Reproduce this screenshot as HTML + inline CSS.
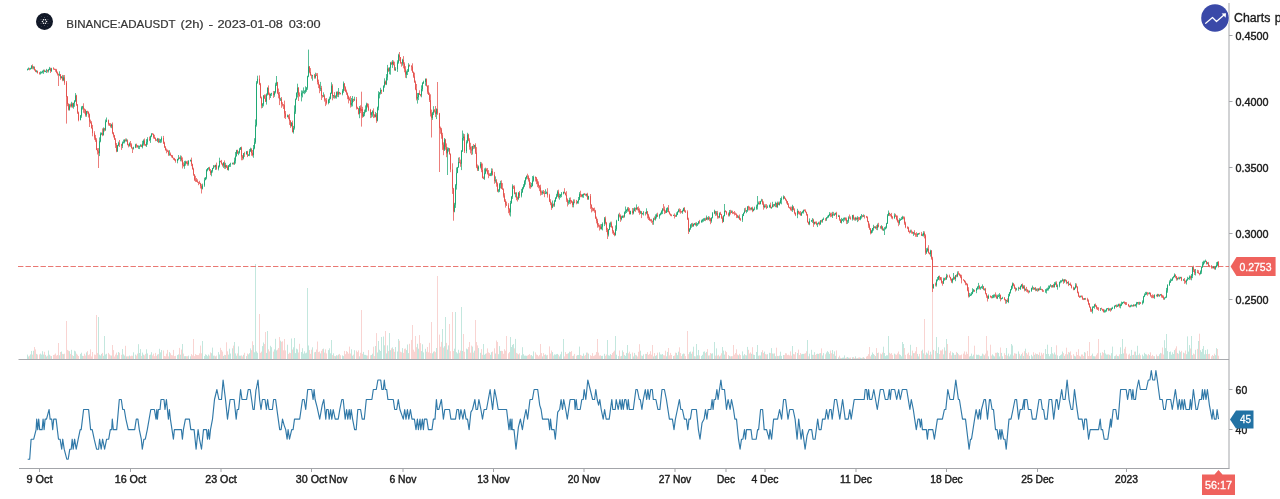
<!DOCTYPE html>
<html><head><meta charset="utf-8"><title>BINANCE:ADAUSDT (2h)</title>
<style>html,body{margin:0;padding:0;background:#fff;overflow:hidden}body{width:1280px;height:499px;font-family:"Liberation Sans",sans-serif}svg{display:block;will-change:transform;filter:opacity(1)}text{font-family:"Liberation Sans",sans-serif}</style></head><body>
<svg width="1280" height="499" viewBox="0 0 1280 499">
<rect width="1280" height="499" fill="#fff"/>
<g opacity="0.999">
<g fill="none" stroke-width="1">
<path stroke="#c3e7de" d="M27.5 359V354.6M28.5 359V356.5M30.5 359V354.4M31.5 359V350.9M33.5 359V350.8M36.5 359V353.9M40.5 359V353.6M41.5 359V354.6M42.5 359V351.2M43.5 359V354.5M45.5 359V354.9M46.5 359V356.5M48.5 359V350.5M49.5 359V354.7M51.5 359V356.1M59.5 359V355.3M61.5 359V351.5M63.5 359V354.2M69.5 359V351.2M71.5 359V349.8M73.5 359V356M74.5 359V350.7M75.5 359V351.4M80.5 359V353.9M81.5 359V352.7M82.5 359V355.8M86.5 359V352.4M98.5 359V317M99.5 359V354.7M100.5 359V355.5M101.5 359V353.9M103.5 359V355.8M104.5 359V336M105.5 359V354.5M106.5 359V353.8M111.5 359V355.6M117.5 359V355.2M118.5 359V352M122.5 359V349M123.5 359V354.4M124.5 359V355.6M126.5 359V356.4M129.5 359V355.5M133.5 359V352.3M135.5 359V354.6M138.5 359V344.2M139.5 359V353M140.5 359V349.1M142.5 359V352.6M143.5 359V354.7M146.5 359V349.3M147.5 359V353.4M150.5 359V354.6M151.5 359V352.2M157.5 359V354.6M159.5 359V348.8M160.5 359V352.3M161.5 359V350M169.5 359V352.1M177.5 359V355.1M178.5 359V354.4M180.5 359V354.7M182.5 359V344M184.5 359V356.2M185.5 359V356.1M188.5 359V355.6M190.5 359V356.3M202.5 359V341M204.5 359V356M205.5 359V354.3M206.5 359V354.9M207.5 359V356.2M208.5 359V354.5M211.5 359V353.2M212.5 359V347.6M213.5 359V355.7M215.5 359V356.3M218.5 359V352.1M219.5 359V354.5M223.5 359V355.9M225.5 359V355.1M228.5 359V354.6M229.5 359V348.7M230.5 359V353.5M232.5 359V348.3M234.5 359V342M235.5 359V353.4M236.5 359V355.7M238.5 359V346.4M239.5 359V355.7M240.5 359V355.7M243.5 359V354.8M246.5 359V356.1M248.5 359V354.4M249.5 359V353.2M250.5 359V348.4M253.5 359V345.1M254.5 359V352.3M255.5 359V264M256.5 359V351.4M257.5 359V352.8M262.5 359V346.1M263.5 359V342.5M266.5 359V352.9M267.5 359V331M270.5 359V345.8M271.5 359V347.2M274.5 359V349.4M275.5 359V338.8M276.5 359V350.4M280.5 359V340.7M287.5 359V344.7M291.5 359V338.5M293.5 359V347.3M294.5 359V338M295.5 359V353.1M296.5 359V348.7M297.5 359V349.4M301.5 359V352M302.5 359V348.2M303.5 359V353.6M304.5 359V351.3M305.5 359V353.3M306.5 359V352.7M307.5 359V288M308.5 359V345.5M312.5 359V347.3M315.5 359V351.9M320.5 359V353.4M323.5 359V348.6M328.5 359V350.1M329.5 359V348.3M330.5 359V353.3M331.5 359V340M333.5 359V353.3M335.5 359V356.2M336.5 359V355.2M338.5 359V354.6M342.5 359V355.4M343.5 359V356.1M351.5 359V349.3M352.5 359V355.7M354.5 359V350.2M359.5 359V356.3M363.5 359V351.9M364.5 359V354.8M365.5 359V354.9M366.5 359V355.4M371.5 359V355M372.5 359V353.7M375.5 359V346M377.5 359V352.5M378.5 359V341M379.5 359V349.7M380.5 359V351M381.5 359V337M383.5 359V336.5M384.5 359V345.3M386.5 359V353.4M387.5 359V345.4M389.5 359V333M390.5 359V350.2M392.5 359V347.4M395.5 359V347M397.5 359V351.5M398.5 359V339M402.5 359V348.1M406.5 359V350.1M407.5 359V344.5M408.5 359V353.1M417.5 359V343.8M418.5 359V348.7M421.5 359V351.1M422.5 359V344.3M423.5 359V352.4M425.5 359V348.8M432.5 359V353.3M433.5 359V351.7M436.5 359V348M442.5 359V329M444.5 359V346.2M445.5 359V317M447.5 359V349.6M448.5 359V345.4M454.5 359V348.7M455.5 359V312M456.5 359V352.2M457.5 359V353.4M458.5 359V349.8M461.5 359V307M462.5 359V350.9M466.5 359V348.6M467.5 359V349.3M472.5 359V346.6M474.5 359V350.7M478.5 359V348.1M480.5 359V352.8M483.5 359V344M484.5 359V354.8M485.5 359V353.8M490.5 359V354.8M491.5 359V352.2M495.5 359V353.5M498.5 359V354.2M499.5 359V346.1M500.5 359V350.9M510.5 359V337M511.5 359V347M512.5 359V344.9M513.5 359V344M515.5 359V338.9M518.5 359V354.4M521.5 359V355.3M522.5 359V347.2M523.5 359V354.2M524.5 359V355.7M525.5 359V355.6M526.5 359V355.8M531.5 359V355M532.5 359V356.2M533.5 359V351.4M542.5 359V356.4M545.5 359V354.4M546.5 359V355.4M552.5 359V352.1M554.5 359V354.4M555.5 359V354.7M556.5 359V354.2M557.5 359V353.9M559.5 359V356.4M560.5 359V354.3M561.5 359V351.7M563.5 359V339M568.5 359V353.2M569.5 359V351.7M573.5 359V355.7M577.5 359V355.1M578.5 359V355M579.5 359V346.6M582.5 359V356M583.5 359V353.5M586.5 359V352.6M588.5 359V353.6M601.5 359V355.9M602.5 359V355.8M604.5 359V353.8M607.5 359V340M608.5 359V355.3M609.5 359V355.7M610.5 359V354.1M615.5 359V336M616.5 359V354.7M618.5 359V356.1M621.5 359V355.9M622.5 359V350.4M624.5 359V354.9M625.5 359V355.9M626.5 359V352.9M627.5 359V345M630.5 359V353.9M633.5 359V356.4M634.5 359V352.9M636.5 359V355.4M640.5 359V350.7M642.5 359V355.9M643.5 359V354.4M646.5 359V353.9M653.5 359V356.4M655.5 359V355.9M656.5 359V355.2M659.5 359V352.3M660.5 359V354.4M661.5 359V354.6M662.5 359V354M666.5 359V356.3M667.5 359V351.9M673.5 359V356M676.5 359V352.9M677.5 359V355.2M678.5 359V351.7M682.5 359V354.3M683.5 359V353.5M689.5 359V352.2M690.5 359V351.5M691.5 359V353.7M693.5 359V346.7M694.5 359V356.2M696.5 359V344M697.5 359V355.3M698.5 359V350M701.5 359V355.9M702.5 359V354.8M703.5 359V351.8M704.5 359V351.4M706.5 359V351.9M708.5 359V355.5M711.5 359V353.7M712.5 359V353.3M714.5 359V342M716.5 359V348.4M719.5 359V356.4M722.5 359V347M723.5 359V350.6M724.5 359V354.6M729.5 359V355.9M731.5 359V356.2M738.5 359V355.3M742.5 359V351.4M743.5 359V355.5M744.5 359V354.1M746.5 359V355.4M747.5 359V346.9M751.5 359V353.8M753.5 359V354.6M754.5 359V355M756.5 359V352M757.5 359V345M758.5 359V355.7M760.5 359V355.5M761.5 359V352.2M764.5 359V351.6M767.5 359V354.2M769.5 359V352.8M771.5 359V348.1M772.5 359V353.5M774.5 359V353.4M775.5 359V356.2M777.5 359V355.9M779.5 359V355.6M780.5 359V351.7M781.5 359V355.9M783.5 359V355M792.5 359V346M797.5 359V353.1M801.5 359V354.3M802.5 359V353.9M803.5 359V353.9M807.5 359V340M809.5 359V353.7M811.5 359V349.8M812.5 359V354.8M814.5 359V352.2M817.5 359V353.7M818.5 359V353.9M820.5 359V353.1M822.5 359V355.5M823.5 359V353.1M826.5 359V352.5M827.5 359V351.1M828.5 359V352.2M829.5 359V353.9M832.5 359V350M834.5 359V351.4M835.5 359V355.8M838.5 359V357.4M841.5 359V358.2M842.5 359V357.7M843.5 359V357.6M844.5 359V355.4M847.5 359V357M848.5 359V357.7M852.5 359V357.3M855.5 359V356.4M857.5 359V358.2M860.5 359V357.7M861.5 359V358.2M863.5 359V357.2M871.5 359V354.8M872.5 359V352.5M873.5 359V354M875.5 359V356.1M877.5 359V353M881.5 359V354.3M883.5 359V346.7M884.5 359V353M885.5 359V356.1M886.5 359V355.3M887.5 359V355.3M888.5 359V336M894.5 359V353.6M899.5 359V354.3M900.5 359V354.9M901.5 359V356.3M902.5 359V342M903.5 359V344M910.5 359V344.8M913.5 359V353.2M917.5 359V353.9M918.5 359V356.4M922.5 359V349.7M923.5 359V353.4M926.5 359V352.5M927.5 359V353.6M930.5 359V351.7M933.5 359V349.9M936.5 359V337M937.5 359V353.1M938.5 359V347.2M943.5 359V354.4M944.5 359V347.4M946.5 359V339M952.5 359V352.4M953.5 359V353.1M955.5 359V354.8M957.5 359V352.9M969.5 359V356.5M970.5 359V355.9M971.5 359V353.6M972.5 359V356.3M973.5 359V354.7M976.5 359V354.6M977.5 359V354.9M978.5 359V354.7M980.5 359V356.1M981.5 359V355.8M982.5 359V353.6M984.5 359V355.3M988.5 359V356.3M992.5 359V354.3M993.5 359V355.5M994.5 359V356.4M997.5 359V352.4M998.5 359V353M999.5 359V356.4M1001.5 359V352.9M1002.5 359V356.3M1006.5 359V348M1008.5 359V353.6M1009.5 359V356.4M1010.5 359V354.5M1011.5 359V344M1012.5 359V345.5M1016.5 359V353.8M1018.5 359V351.4M1020.5 359V355.7M1021.5 359V354.2M1023.5 359V355.9M1025.5 359V348.7M1029.5 359V355.9M1031.5 359V354.8M1032.5 359V356.3M1034.5 359V354.8M1036.5 359V354.2M1038.5 359V354.9M1040.5 359V355.8M1045.5 359V349M1046.5 359V354M1047.5 359V344.7M1048.5 359V353.9M1049.5 359V356.2M1050.5 359V354.2M1051.5 359V347M1052.5 359V353.3M1054.5 359V352.5M1055.5 359V354.6M1057.5 359V355.4M1059.5 359V356M1060.5 359V355.2M1061.5 359V354.4M1062.5 359V351.5M1064.5 359V355.8M1067.5 359V354.4M1069.5 359V352.6M1074.5 359V355.8M1075.5 359V356.4M1080.5 359V356.5M1084.5 359V352.1M1092.5 359V353.6M1093.5 359V356.2M1094.5 359V356.3M1100.5 359V352.8M1104.5 359V349.9M1105.5 359V353.5M1106.5 359V354.6M1107.5 359V354.5M1109.5 359V354.8M1111.5 359V353.2M1112.5 359V346.6M1114.5 359V356.2M1115.5 359V355.7M1117.5 359V356M1118.5 359V356.2M1120.5 359V347.3M1121.5 359V354M1122.5 359V339M1123.5 359V353.4M1130.5 359V355.8M1131.5 359V349.9M1133.5 359V354.8M1135.5 359V351.6M1136.5 359V355.3M1137.5 359V345.8M1139.5 359V353.5M1142.5 359V354.6M1143.5 359V356.2M1144.5 359V352.8M1145.5 359V354.1M1146.5 359V354.5M1149.5 359V355.1M1154.5 359V356.2M1157.5 359V356.2M1159.5 359V354.3M1160.5 359V352.9M1164.5 359V340.2M1165.5 359V348.1M1166.5 359V334M1167.5 359V351.1M1169.5 359V352M1170.5 359V351.5M1171.5 359V354.7M1172.5 359V352.3M1173.5 359V354M1174.5 359V350.1M1177.5 359V353.1M1179.5 359V350.6M1180.5 359V352.1M1183.5 359V352.6M1186.5 359V354.2M1187.5 359V336.4M1188.5 359V351.6M1189.5 359V345.1M1191.5 359V336M1192.5 359V355.1M1195.5 359V349.8M1198.5 359V341M1200.5 359V350.2M1201.5 359V351.9M1202.5 359V348.9M1203.5 359V346M1204.5 359V354.3M1205.5 359V350.1M1207.5 359V349.4M1213.5 359V355.9M1215.5 359V355.2M1216.5 359V348.1"/>
<path stroke="#f9d4d2" d="M29.5 359V355.7M32.5 359V354.6M34.5 359V347M35.5 359V349.4M37.5 359V354.5M39.5 359V354.4M44.5 359V351.8M47.5 359V355.7M50.5 359V355.7M53.5 359V355M54.5 359V354.6M55.5 359V353.5M56.5 359V355.6M57.5 359V355M58.5 359V343M60.5 359V352M62.5 359V353.9M64.5 359V353.7M66.5 359V321M67.5 359V349.9M68.5 359V350.7M70.5 359V353.9M72.5 359V355.2M76.5 359V353.7M77.5 359V354.7M78.5 359V356M83.5 359V356M84.5 359V353.7M85.5 359V355.5M87.5 359V351.1M88.5 359V355.1M89.5 359V354.3M90.5 359V349.3M91.5 359V356.4M92.5 359V352M94.5 359V354.5M95.5 359V354.8M96.5 359V315M97.5 359V353.1M102.5 359V352.9M108.5 359V352.9M109.5 359V354.4M110.5 359V355.4M112.5 359V345M113.5 359V350.1M114.5 359V356.5M115.5 359V354.6M116.5 359V352.6M119.5 359V352.8M121.5 359V354.8M125.5 359V345.8M127.5 359V356.3M128.5 359V356.3M130.5 359V356.2M131.5 359V355.7M132.5 359V355.8M136.5 359V355.6M137.5 359V353.6M141.5 359V355.9M144.5 359V355.4M145.5 359V353.9M149.5 359V355M152.5 359V355.4M153.5 359V353.7M154.5 359V356.2M155.5 359V352.9M156.5 359V355.9M158.5 359V354.1M163.5 359V350.5M164.5 359V356M165.5 359V356.3M166.5 359V353.7M167.5 359V349.9M168.5 359V356.4M170.5 359V353.3M171.5 359V355.1M172.5 359V355.4M173.5 359V349.9M174.5 359V356.1M175.5 359V355.8M179.5 359V347.9M181.5 359V349.5M183.5 359V353.6M186.5 359V356.2M187.5 359V356.2M191.5 359V354.1M192.5 359V355.4M193.5 359V339M194.5 359V356.1M195.5 359V354.1M196.5 359V354.9M197.5 359V355.1M198.5 359V355.1M199.5 359V353.4M200.5 359V345.6M201.5 359V353.3M209.5 359V355.6M210.5 359V352.4M214.5 359V355.6M216.5 359V355.6M220.5 359V347.8M221.5 359V350.1M222.5 359V351.6M224.5 359V354.8M226.5 359V342.3M227.5 359V351.3M233.5 359V345.6M237.5 359V353.4M241.5 359V355.4M242.5 359V356.4M244.5 359V352.8M247.5 359V353.5M251.5 359V350.2M252.5 359V341.3M259.5 359V314M260.5 359V352.8M261.5 359V351.6M264.5 359V344M265.5 359V332M268.5 359V349.3M269.5 359V351.4M273.5 359V351.6M277.5 359V349.6M278.5 359V348M279.5 359V337M281.5 359V341.8M282.5 359V341.3M283.5 359V350.3M284.5 359V339M285.5 359V350.4M288.5 359V353.9M289.5 359V352.6M290.5 359V353.1M292.5 359V349.5M298.5 359V352.5M299.5 359V343.8M309.5 359V350.1M310.5 359V353.8M311.5 359V349.7M314.5 359V352.3M316.5 359V349.5M317.5 359V341.5M318.5 359V352.1M319.5 359V351.5M321.5 359V350.8M322.5 359V349.1M324.5 359V352.6M325.5 359V349.3M326.5 359V353.4M332.5 359V355.1M334.5 359V355.9M337.5 359V355.5M339.5 359V353.9M340.5 359V355.3M344.5 359V350.9M345.5 359V354.2M346.5 359V351M347.5 359V351.9M348.5 359V353.6M349.5 359V346.6M350.5 359V353.5M353.5 359V354.6M356.5 359V350.6M357.5 359V352.1M358.5 359V350.4M360.5 359V352.8M361.5 359V310M362.5 359V353.8M367.5 359V355.5M368.5 359V350.1M370.5 359V355.3M373.5 359V346.7M374.5 359V356.1M376.5 359V333.1M385.5 359V331M388.5 359V351.1M391.5 359V348.3M393.5 359V349M394.5 359V351.8M399.5 359V340.8M400.5 359V351.7M401.5 359V352.3M403.5 359V352.9M404.5 359V348.8M405.5 359V348.5M409.5 359V343.8M411.5 359V339.9M412.5 359V325M413.5 359V349.7M414.5 359V351.7M415.5 359V336M416.5 359V347.2M419.5 359V335.1M420.5 359V343.1M426.5 359V351.7M427.5 359V347M428.5 359V352.3M429.5 359V342.8M430.5 359V353.1M431.5 359V322M434.5 359V351.2M435.5 359V352.2M437.5 359V276M439.5 359V334.6M440.5 359V346.7M441.5 359V341.9M443.5 359V347.6M446.5 359V342.9M449.5 359V324M450.5 359V351.2M452.5 359V312M453.5 359V351M459.5 359V352.8M460.5 359V350.6M463.5 359V334M464.5 359V351.8M468.5 359V347.1M469.5 359V342M470.5 359V352.7M471.5 359V345.6M473.5 359V352.6M475.5 359V320M476.5 359V342M477.5 359V345.4M481.5 359V349.1M482.5 359V354.8M486.5 359V353.3M487.5 359V348.4M488.5 359V352.4M489.5 359V353.1M492.5 359V351.5M494.5 359V348.3M496.5 359V340.5M497.5 359V342M501.5 359V350.8M502.5 359V351.1M503.5 359V353.8M504.5 359V349.2M505.5 359V350.7M506.5 359V336M508.5 359V353.3M509.5 359V352M514.5 359V348.4M516.5 359V352.9M517.5 359V353.6M519.5 359V353.3M527.5 359V355.6M528.5 359V354.9M529.5 359V354.1M530.5 359V355.3M535.5 359V352.4M536.5 359V354.5M537.5 359V355M538.5 359V356.3M539.5 359V354.9M540.5 359V344M541.5 359V353.1M543.5 359V353.1M544.5 359V354.9M547.5 359V354.9M549.5 359V346.4M550.5 359V353.5M551.5 359V350.5M553.5 359V355.5M558.5 359V354.8M564.5 359V356.4M565.5 359V352.1M566.5 359V354M567.5 359V353.7M570.5 359V352M571.5 359V351.1M572.5 359V356M574.5 359V353.9M576.5 359V355.7M580.5 359V354.9M581.5 359V355.5M584.5 359V355.8M585.5 359V354.9M587.5 359V352.6M590.5 359V355.2M591.5 359V355.9M592.5 359V353.1M593.5 359V356.1M594.5 359V355.5M595.5 359V354.7M596.5 359V352M597.5 359V339M598.5 359V352.6M599.5 359V355.6M600.5 359V355.3M605.5 359V355.8M606.5 359V354.5M611.5 359V355M612.5 359V353M613.5 359V351.8M614.5 359V350.6M619.5 359V350.5M620.5 359V356.3M623.5 359V352.1M628.5 359V353.3M629.5 359V351.7M632.5 359V352.5M635.5 359V354.8M637.5 359V356.5M638.5 359V351.8M639.5 359V344.2M641.5 359V355.5M645.5 359V353.9M647.5 359V352.1M648.5 359V354.9M649.5 359V353.9M650.5 359V351.2M651.5 359V354.7M652.5 359V345M654.5 359V353.1M657.5 359V352.7M663.5 359V355.2M664.5 359V355.4M665.5 359V350.7M668.5 359V348M669.5 359V355.4M670.5 359V352.9M671.5 359V354.9M674.5 359V355.5M675.5 359V352.6M679.5 359V347.3M680.5 359V353M681.5 359V356.1M684.5 359V353.8M685.5 359V356.1M687.5 359V331M688.5 359V354.2M692.5 359V351.7M695.5 359V356.4M699.5 359V355.4M705.5 359V353.1M707.5 359V349.1M709.5 359V355.4M710.5 359V353M715.5 359V355.6M717.5 359V355.6M718.5 359V354.8M720.5 359V355.5M721.5 359V353.3M725.5 359V350.8M726.5 359V352.1M728.5 359V355M730.5 359V356.4M732.5 359V356.2M733.5 359V345M734.5 359V354.6M735.5 359V353.1M736.5 359V349.3M737.5 359V354.6M739.5 359V353.8M740.5 359V355.1M745.5 359V355.1M748.5 359V349.8M749.5 359V353.5M750.5 359V352.4M752.5 359V347.2M759.5 359V355.4M762.5 359V350.2M763.5 359V353M765.5 359V354.1M766.5 359V354.5M770.5 359V353.1M773.5 359V353.6M776.5 359V347.7M778.5 359V356M784.5 359V355.1M785.5 359V353.2M786.5 359V353.4M787.5 359V355.1M788.5 359V354.7M789.5 359V355.4M790.5 359V351.4M791.5 359V355.6M793.5 359V353.9M794.5 359V354.4M795.5 359V352M798.5 359V349.6M799.5 359V355M800.5 359V353M804.5 359V353.7M805.5 359V353.2M806.5 359V351.2M808.5 359V356.3M813.5 359V354.8M815.5 359V355M816.5 359V354M819.5 359V353.4M821.5 359V348.4M825.5 359V354.3M830.5 359V350.5M831.5 359V353.2M833.5 359V354.1M836.5 359V350.4M839.5 359V355.7M840.5 359V357.8M845.5 359V358.1M846.5 359V357.5M849.5 359V357.8M850.5 359V357.5M853.5 359V357.1M854.5 359V358.2M856.5 359V358.2M858.5 359V357.6M859.5 359V357.4M862.5 359V357.6M864.5 359V357.9M866.5 359V356.6M867.5 359V355.9M868.5 359V354.2M869.5 359V347M870.5 359V356.4M874.5 359V355M876.5 359V348.1M878.5 359V352.5M880.5 359V353.5M882.5 359V352.6M889.5 359V352.8M890.5 359V353.8M891.5 359V353.1M892.5 359V354.9M895.5 359V354.4M896.5 359V354.8M897.5 359V353.4M898.5 359V351.5M904.5 359V348M905.5 359V354.8M907.5 359V353.8M908.5 359V352.7M909.5 359V355.1M911.5 359V355.6M912.5 359V350.6M914.5 359V353.1M915.5 359V351.3M916.5 359V347M919.5 359V353.9M921.5 359V350.8M924.5 359V319M925.5 359V354.8M928.5 359V350.6M929.5 359V355.1M931.5 359V354.5M932.5 359V287M935.5 359V350.9M939.5 359V354.1M940.5 359V350.4M941.5 359V350.5M942.5 359V349.4M945.5 359V350.7M947.5 359V344M949.5 359V352.9M950.5 359V351.2M951.5 359V355.4M954.5 359V354.9M956.5 359V351.9M958.5 359V354.2M959.5 359V355.3M960.5 359V355.2M961.5 359V354.5M963.5 359V353.6M964.5 359V351.4M965.5 359V354.7M966.5 359V351.7M967.5 359V353.9M968.5 359V336M974.5 359V345.7M979.5 359V355.3M983.5 359V354.4M985.5 359V353.6M986.5 359V336M987.5 359V350.6M990.5 359V344.7M991.5 359V355.6M995.5 359V352.8M996.5 359V352.8M1000.5 359V347.5M1004.5 359V353.2M1005.5 359V355M1007.5 359V355.6M1013.5 359V355.5M1014.5 359V353.2M1015.5 359V353.6M1019.5 359V353.8M1022.5 359V352.7M1024.5 359V351.2M1026.5 359V353M1027.5 359V354.6M1028.5 359V352.4M1033.5 359V352.2M1035.5 359V353.3M1037.5 359V353.9M1039.5 359V352.3M1041.5 359V352.7M1042.5 359V354.6M1043.5 359V353.1M1053.5 359V354.3M1056.5 359V345.3M1063.5 359V353.1M1065.5 359V354.2M1066.5 359V347.7M1068.5 359V352M1070.5 359V351.4M1071.5 359V355.3M1073.5 359V354.2M1076.5 359V351.9M1077.5 359V355M1078.5 359V349.2M1079.5 359V355.8M1081.5 359V354.5M1082.5 359V354.5M1083.5 359V356M1085.5 359V352.7M1087.5 359V351M1088.5 359V356M1089.5 359V342M1090.5 359V356M1091.5 359V355.3M1095.5 359V356.4M1096.5 359V354.7M1097.5 359V353.2M1098.5 359V339M1101.5 359V355.5M1102.5 359V352.1M1103.5 359V353.1M1108.5 359V354.3M1110.5 359V355.6M1116.5 359V354.5M1119.5 359V354.4M1124.5 359V348.8M1125.5 359V346.8M1126.5 359V353.5M1128.5 359V354.7M1129.5 359V353.7M1132.5 359V355.1M1134.5 359V351.6M1138.5 359V354.9M1140.5 359V355.3M1147.5 359V355.5M1148.5 359V354M1150.5 359V352.3M1151.5 359V356.1M1152.5 359V354.9M1153.5 359V356.2M1156.5 359V354.5M1158.5 359V356M1161.5 359V353.4M1162.5 359V347.5M1163.5 359V354.5M1175.5 359V348.5M1176.5 359V346.3M1178.5 359V353.8M1181.5 359V350.8M1184.5 359V353.3M1185.5 359V350.5M1190.5 359V348.5M1193.5 359V353.5M1194.5 359V354.3M1197.5 359V348.9M1199.5 359V333.7M1206.5 359V354.1M1208.5 359V354.1M1209.5 359V353.8M1211.5 359V356.3M1212.5 359V355M1214.5 359V353.7M1217.5 359V349M1218.5 359V355.7"/>
</g>
<g fill="none" stroke="#a3a5a9" stroke-width="1">
<path stroke="#a9abaf" d="M18.5 359.5H1229"/>
<path d="M1229 3V468.5"/>
<path d="M19 468.5H1229.5"/>
<path d="M1229 35.5h3.5"/>
<path d="M1229 101.5h3.5"/>
<path d="M1229 167.5h3.5"/>
<path d="M1229 233.5h3.5"/>
<path d="M1229 299.5h3.5"/>
<path d="M1229 389.5h3.5"/>
<path d="M1229 429.5h3.5"/>
<path d="M39.5 468.5v3.5"/>
<path d="M130.5 468.5v3.5"/>
<path d="M221 468.5v3.5"/>
<path d="M311.5 468.5v3.5"/>
<path d="M403 468.5v3.5"/>
<path d="M493.5 468.5v3.5"/>
<path d="M584 468.5v3.5"/>
<path d="M675 468.5v3.5"/>
<path d="M726 468.5v3.5"/>
<path d="M765 468.5v3.5"/>
<path d="M856 468.5v3.5"/>
<path d="M946.5 468.5v3.5"/>
<path d="M1037.5 468.5v3.5"/>
<path d="M1126.5 468.5v3.5"/>
</g>
<path d="M18 266.5H1229" fill="none" stroke="#e5605b" stroke-width="1" stroke-dasharray="5.4 2.1" opacity="0.85"/>
<g fill="none">
<path stroke="#1fa874" stroke-width="1" opacity="0.75" d="M27.5 68.6V70.5M28.5 67.5V69.8M30.5 67.8V69.6M31.5 65.1V69.1M33.5 66.2V69.4M36.5 70.1V72.5M40.5 71.3V74.5M41.5 71.5V73.5M42.5 70.5V73.3M43.5 69.6V73.9M45.5 70.6V72.1M46.5 68.9V73M48.5 68.9V72.5M49.5 66.9V70.2M51.5 67.8V71.9M59.5 71.3V76.1M61.5 76.2V78.4M63.5 75.2V81.1M69.5 103.9V110.6M71.5 101.8V107.4M73.5 102.7V108.7M74.5 100.1V106.8M75.5 93.1V101.9M80.5 114.9V120.4M81.5 106.2V117.8M82.5 105.9V109.5M86.5 110.9V116.8M99.5 137.4V156.1M100.5 132.4V142.3M101.5 132.5V135.1M103.5 127.4V135.6M105.5 119.5V130.9M106.5 117.5V122.2M111.5 123.8V128.2M117.5 144.9V151.8M118.5 141.7V146.2M122.5 141.5V148.1M123.5 139.6V143.5M124.5 139.2V143.4M126.5 138.5V141.7M129.5 142.4V146.5M133.5 146.7V149.5M135.5 143.8V148.1M138.5 145.4V148.9M139.5 145.6V149.1M140.5 144.3V146.9M142.5 140.8V148.4M143.5 139.4V145.6M146.5 139.1V147M147.5 137.2V144.7M150.5 135.6V142.9M151.5 133.3V137.2M157.5 137.9V142.1M159.5 138.6V142.6M160.5 139V143.1M161.5 136.3V142.6M169.5 150.2V155.7M177.5 158.8V163.3M178.5 155V160.3M180.5 155.4V161.3M184.5 160.9V168.8M185.5 160.7V165.7M188.5 160.2V165.6M190.5 159.6V161.5M202.5 183.6V189.4M204.5 177.7V186.8M205.5 177.1V180.3M206.5 169.1V179.3M207.5 168V171.3M208.5 167.2V169.7M211.5 170.2V176.3M212.5 167.9V172.6M213.5 165V168.9M215.5 164.7V169.9M218.5 165.4V170.4M219.5 157.7V167.4M223.5 162.2V167.9M225.5 162.8V168.8M228.5 165.1V170.6M229.5 163.9V167M230.5 162.7V166.9M232.5 162.6V164.5M234.5 157.6V164.9M235.5 152V163.6M236.5 149.8V156.6M238.5 151.2V155.2M239.5 147.9V153.6M240.5 147V150M243.5 153V159.4M246.5 151.1V154.6M248.5 154.4V155.9M249.5 149.1V156.2M250.5 147.7V151.8M253.5 145V157.8M254.5 138.2V149.3M255.5 119.4V143.8M256.5 81.1V126.6M257.5 75.7V83.7M262.5 103.1V107.9M263.5 95.1V106.4M266.5 93.4V104.6M267.5 87.4V95.5M270.5 93.5V98M271.5 92.8V95.9M274.5 91V96.8M275.5 82.7V93.5M276.5 76V86M280.5 97.8V101M287.5 114.5V117.4M291.5 122V126.5M293.5 125.9V133.6M294.5 105.4V129.6M295.5 98.5V113.9M296.5 92.4V99.7M297.5 83.7V97.4M301.5 90.4V101.4M302.5 90.6V97.4M303.5 87.4V93.4M304.5 90.3V94.2M305.5 86.3V93.2M306.5 87.2V91.8M307.5 75.7V89.8M308.5 49.6V77.2M312.5 74.9V80.7M315.5 72.7V78.6M320.5 81.9V91.1M323.5 92.3V97.1M328.5 98.8V104.3M329.5 96.6V103M330.5 92.6V99.3M331.5 82.3V94M333.5 95V98.3M335.5 95.3V98.4M336.5 91.5V98.6M338.5 88V97.2M342.5 89.2V95.3M343.5 81.5V92.8M351.5 98V106.7M352.5 96V106.4M354.5 96.7V101M359.5 106V118.2M363.5 112V117.1M364.5 109.6V116.2M365.5 105.4V112.5M366.5 102.7V111.9M371.5 112V117.6M372.5 110.3V116.7M375.5 111.9V117.4M377.5 106.6V121.4M378.5 91.2V110.3M379.5 92V98.4M380.5 87.8V94.5M383.5 85.3V92M384.5 78.3V87.7M386.5 74.1V85.1M387.5 64.9V80.4M389.5 67.3V74.3M390.5 61.9V74.7M392.5 60.1V67.9M395.5 67.2V70.9M397.5 60.3V71.9M398.5 53.8V63.7M402.5 58.8V65.6M406.5 70.6V78.2M407.5 69.1V75M408.5 63.2V71.9M417.5 93V103.6M418.5 92.9V100.1M421.5 85.3V97.3M422.5 82.2V91.3M423.5 80.7V84M425.5 78.4V85.7M432.5 111.9V119.9M433.5 106.2V115.1M436.5 108.4V119.1M444.5 138V151M447.5 147.3V175M448.5 147.7V151.6M454.5 202.8V212.3M455.5 184.1V207.9M456.5 167.5V189.6M457.5 166.9V173.2M458.5 157.6V167.8M461.5 150.1V170.1M462.5 130.5V152M463.5 133.5V140.6M466.5 140.3V153.2M467.5 132.8V143.4M472.5 145.8V154.5M474.5 144.9V148.6M478.5 165.5V171M480.5 161.9V168.4M484.5 168.4V179.9M485.5 167.7V174.2M490.5 172.9V176.1M491.5 168.3V176.1M495.5 176.4V182.7M498.5 189.1V192.5M499.5 183.1V192.1M500.5 180.8V188.4M510.5 200.8V216.5M511.5 196.1V203.8M512.5 184.3V198.9M515.5 192.3V197.3M518.5 192.1V199.8M521.5 188.9V197.4M522.5 187V192.8M523.5 184.1V189.3M524.5 180.2V187.1M525.5 177.1V184.6M526.5 175.4V179.5M531.5 182.9V187.3M532.5 176V186.4M533.5 175.6V181.7M542.5 190.5V194.7M545.5 189.3V194M546.5 191.5V194.1M552.5 200.5V208.2M554.5 199.9V206.8M555.5 197.2V201.8M556.5 193.8V198.9M557.5 190.3V196.9M559.5 193.7V199.7M560.5 194.1V197.8M561.5 192V197.2M563.5 191.6V194.4M568.5 200.2V204.7M569.5 197.7V203.8M573.5 199.4V207.4M577.5 200.8V203.7M578.5 197V203.7M579.5 192.2V200.1M582.5 194V197.5M583.5 193.5V197.8M586.5 193.6V196.6M588.5 195.8V199.9M601.5 224V229.6M602.5 222.4V230.4M604.5 217V226.1M608.5 229.1V236.5M609.5 222.8V230.1M610.5 221.7V227.2M615.5 225.4V235.6M616.5 219.8V230.8M618.5 213.8V221.1M621.5 215.8V220.4M622.5 215.4V218M624.5 211.5V217.6M625.5 206.5V213.9M626.5 209.2V213M627.5 207.3V211.7M630.5 210.7V214.5M633.5 208.2V214.3M634.5 207.3V211.3M636.5 204.4V210.1M640.5 210.7V213.9M642.5 212.9V214.6M643.5 211.1V215.5M646.5 208.3V214.2M653.5 217.8V224.8M655.5 214.4V220.6M656.5 213.5V218.5M659.5 213.9V218.7M660.5 212.6V215.5M661.5 210.3V214.5M662.5 208.2V214.1M666.5 207.9V213M667.5 207.2V212.1M673.5 214.7V216M676.5 212.3V216.8M677.5 211.2V215.1M678.5 208.8V212.4M682.5 209.7V213.8M683.5 207.7V211.3M689.5 228.3V232.1M690.5 224.1V229.8M691.5 223.1V227.8M693.5 223.6V226.7M694.5 223V225.1M696.5 222.3V226.6M697.5 223.1V225.9M698.5 221.2V224.5M701.5 219.7V222.6M702.5 218.9V222.4M703.5 218.2V221.7M704.5 217.9V221M706.5 215.5V220M708.5 216.1V220.1M711.5 217.4V222.7M712.5 212.1V218.4M714.5 209.7V214.2M716.5 211.1V215.5M719.5 212.4V218.2M723.5 215.2V222.1M724.5 204V216.4M729.5 210V216.4M731.5 210.4V213M738.5 215.6V218.4M742.5 214.1V221.9M743.5 212.5V216.1M744.5 208.2V213.6M746.5 210V213.2M747.5 206.2V211.9M751.5 207.2V210.2M753.5 208.6V211.3M754.5 206.7V210.2M756.5 204.7V209.8M757.5 196V209.5M758.5 201.5V204.5M760.5 200.8V204.4M761.5 198.8V201.6M764.5 204.4V208.2M767.5 205.4V207.8M769.5 204.5V207.7M771.5 206.7V208.8M772.5 201.8V207.5M774.5 203.9V206.3M775.5 201.7V207.2M777.5 201.6V207.9M779.5 201.6V205.5M780.5 198V203.6M781.5 196.5V204.3M783.5 195.4V199.5M792.5 204.8V211.9M797.5 208.8V218.2M801.5 211.9V216M802.5 210.8V213.4M803.5 209.6V213.6M809.5 218.4V225.2M811.5 219.9V222M812.5 218.1V222.9M814.5 221.7V224.6M817.5 222.9V227.1M818.5 221.8V224.3M820.5 220V224.8M822.5 218.8V222.7M823.5 217.5V219.9M826.5 217.1V220.9M827.5 215.7V218.4M828.5 214.8V217.7M829.5 212.1V216.2M832.5 211.8V218M834.5 213.3V216M835.5 212.6V214.9M838.5 214.8V217M841.5 217.9V223.5M842.5 218.8V220.8M843.5 217.7V222.2M844.5 217.3V220.6M847.5 220.2V223.9M848.5 216.3V222.8M852.5 214.9V220.6M855.5 216.8V220.7M857.5 216.2V222.1M860.5 215.9V220.2M861.5 214V218.6M863.5 214.4V216.9M871.5 229.9V233.6M872.5 228V232.7M873.5 224.8V230.6M875.5 226.2V228.8M877.5 223.5V230.2M881.5 225.2V229.4M883.5 228.4V231M884.5 227.1V235M885.5 226.4V229.5M886.5 222.8V228.5M887.5 214.1V224M888.5 210.5V216.1M894.5 213.3V218.8M899.5 218.2V224.7M900.5 218.6V220.9M901.5 216.9V220M902.5 215.8V219.5M910.5 229.7V232.6M913.5 231.9V235.9M917.5 233.2V237M918.5 233V235M922.5 233.6V236.2M923.5 231.2V236.5M926.5 248.2V253.9M927.5 247.6V251.7M930.5 249.7V256.6M933.5 283.9V288.6M936.5 279.3V286.6M937.5 277V281.3M938.5 275.9V279.9M943.5 277.7V284M944.5 277.8V280.7M946.5 273.8V279.8M952.5 278.4V283.3M953.5 273V280.1M955.5 275V281.2M957.5 271.4V277.2M969.5 292.9V297.2M970.5 293.5V296M971.5 292V295.6M972.5 288.2V294.2M973.5 289V292.2M976.5 287.9V293.2M977.5 286.2V289.7M978.5 282.9V289.3M980.5 286.8V289.8M981.5 286.1V288.4M982.5 284.4V289M984.5 288.4V290.6M988.5 294.5V298.9M992.5 295V298.3M993.5 294.5V298.1M994.5 294.4V297.6M997.5 294.8V299.1M998.5 294.3V296.9M999.5 293.1V298.6M1001.5 297.9V299.6M1002.5 296.8V298.9M1006.5 299.8V303.5M1008.5 293.9V303.1M1009.5 291.9V296.4M1010.5 289V293.6M1011.5 285.6V290.3M1012.5 282.5V288.7M1016.5 287.9V290.5M1018.5 286.8V290.8M1020.5 285.6V289.9M1021.5 284.1V287.2M1023.5 285.3V288.8M1025.5 288.5V290.9M1029.5 290.5V292.6M1031.5 287.7V291.6M1032.5 285.6V289.6M1034.5 287.7V289.8M1036.5 288.5V291.1M1038.5 288.4V291.2M1040.5 286.3V290M1045.5 289.1V292.8M1046.5 288.4V293.5M1047.5 287.6V290.7M1048.5 285.5V290.5M1049.5 285.4V288.8M1050.5 284.1V286.6M1052.5 285.1V287.6M1054.5 282.1V287.6M1055.5 281.6V285.1M1057.5 284.4V289.7M1059.5 281.6V287.3M1060.5 280.2V283.3M1061.5 280.2V282.5M1062.5 278.6V281.4M1064.5 279.2V282.8M1067.5 281.8V283.6M1069.5 283.5V285.1M1074.5 287.3V290.1M1075.5 283.2V288.7M1080.5 295.6V297.5M1084.5 298V299.9M1092.5 306.3V313.5M1093.5 306.3V307.9M1094.5 303.9V308.7M1100.5 308V311M1104.5 309.6V312.7M1105.5 309.8V312.4M1106.5 308.2V311.7M1107.5 308.1V309.4M1109.5 308.3V310.7M1111.5 307.7V310.5M1112.5 306.8V309.1M1114.5 305.4V309.1M1115.5 304.9V306.9M1117.5 304.6V307M1118.5 303.7V306.5M1120.5 303.6V308.4M1121.5 301.6V306.1M1122.5 302V304.2M1123.5 301.5V303.2M1130.5 304.9V307.3M1131.5 304.6V306.6M1133.5 304.2V306.6M1135.5 304V306.4M1136.5 301.9V307.6M1137.5 302V304.3M1139.5 301.8V304.9M1142.5 300.4V304.6M1143.5 295.9V303.3M1144.5 293.4V297.1M1145.5 291.9V295.3M1146.5 291.8V294.8M1149.5 292.1V294.4M1154.5 294.3V298.8M1157.5 293.8V297.1M1159.5 294.5V296.8M1160.5 294V295.7M1164.5 297.3V299.8M1165.5 296.6V298.3M1166.5 287.9V297.7M1167.5 284.3V292.7M1169.5 280.4V285.9M1170.5 278.6V283M1171.5 278.8V281.2M1172.5 277.3V280.8M1173.5 275.9V278.4M1174.5 273.4V277.3M1177.5 277.6V280.3M1179.5 276.8V279.5M1180.5 276.8V278.5M1183.5 278.9V280.8M1186.5 279.3V284.5M1187.5 276.8V280.8M1188.5 277.7V279.4M1189.5 275.4V279.9M1191.5 274V280.3M1192.5 267V278.1M1195.5 269V275.5M1200.5 270.4V274.5M1201.5 266.4V273.8M1202.5 261.8V267.9M1203.5 260.7V265.5M1204.5 260.6V263.6M1205.5 259.6V262.1M1207.5 262V264.3M1213.5 266.1V268.6M1215.5 265.9V269.8M1216.5 262.2V267.4M1217.5 261.6V266.2"/>
<path stroke="#e5534f" stroke-width="1" opacity="0.75" d="M29.5 67.9V70.3M32.5 64.4V69.2M34.5 66.5V70.7M35.5 69.2V72.1M37.5 70.6V73.6M39.5 72.1V74.6M44.5 69.6V72.1M47.5 69.8V72.5M50.5 67.7V73M53.5 67.3V69.8M54.5 68.5V70M55.5 68.8V71.8M56.5 68.9V73.4M57.5 71.5V75.5M58.5 73.6V86M60.5 74.1V79.8M62.5 74.9V81.2M64.5 75V84.9M66.5 81V123.6M67.5 96V106.2M68.5 103.3V110.5M70.5 103.6V107.4M72.5 102.7V107.8M76.5 94.8V105.9M77.5 104V113.9M78.5 111.6V121.3M83.5 103.3V112.8M84.5 108.4V113.6M85.5 109.3V116.7M87.5 110.8V113.7M88.5 111.4V117.5M89.5 113.5V127M90.5 119.6V123.6M91.5 121.2V128.7M92.5 124.9V136.3M94.5 131.2V139.8M95.5 134.9V141.9M96.5 138.2V150.2M97.5 148.2V154.5M98.5 148.1V168M102.5 128.4V136.2M104.5 127.9V131.5M108.5 119.6V125.6M109.5 123V126M110.5 123.1V127.6M112.5 122.5V134.2M113.5 132.1V137.5M114.5 134.9V139.9M115.5 138.1V147.9M116.5 143V152.2M119.5 140V147M121.5 143.8V149.9M125.5 138.5V141.6M127.5 139.4V145.3M128.5 143.8V147.4M130.5 141V146.8M131.5 143.3V148.6M132.5 147.3V153M136.5 143.6V147.7M137.5 145.1V147.6M141.5 144.5V147.1M144.5 138.5V145.7M145.5 144V146.2M149.5 136.6V141.1M152.5 133.2V134.8M153.5 133.6V138.6M154.5 134.8V139M155.5 137.5V141.2M156.5 139.4V140.9M158.5 138.2V143.1M163.5 135.9V144M164.5 141.7V147.9M165.5 146.1V150.5M166.5 148.5V153.3M167.5 149.6V152.1M168.5 150.3V155.9M170.5 152.5V155.8M171.5 154.9V157.5M172.5 155V158.2M173.5 157.6V159.9M174.5 157.9V160.6M175.5 159V162.7M179.5 156.9V159M181.5 155.8V161.5M182.5 157.4V168.5M183.5 162.4V166.5M186.5 161.2V164.1M187.5 160.7V165.7M191.5 157.6V166.2M192.5 163.7V169.7M193.5 167.7V175.8M194.5 174.2V180.9M195.5 175.8V181.9M196.5 178V182M197.5 179.3V182.8M198.5 181.8V185.2M199.5 180.8V184.1M200.5 182.8V188.5M201.5 184.1V193.5M209.5 166.8V171.2M210.5 169V175.1M214.5 165.2V167.4M216.5 162.6V169.8M220.5 160.7V162.4M221.5 159.9V164.6M222.5 163.3V166.6M224.5 160.4V168.8M226.5 164.9V168M227.5 165.5V170.2M233.5 162.4V164.7M237.5 149.7V154M241.5 146.6V160.3M242.5 155.1V160.2M244.5 151.8V156.9M247.5 150.9V157.1M251.5 148.2V155.7M252.5 150V156.4M259.5 75.4V85.1M260.5 82.9V98.4M261.5 96.6V108.4M264.5 94.4V98.8M265.5 94.5V101.9M268.5 85.4V95M269.5 92.6V99.8M273.5 91V97.9M277.5 81.9V93.9M278.5 88.5V98.3M279.5 92V105.1M281.5 97V107.8M282.5 102.2V106.4M283.5 104.2V109M284.5 100.6V118.1M285.5 111V119M288.5 114.8V119.2M289.5 113.9V124.9M290.5 120.1V127.9M292.5 120.6V132.5M298.5 87.2V101M299.5 92.4V96.7M309.5 66.1V73.3M310.5 68.1V75.6M311.5 74.4V78.7M314.5 74V78.7M316.5 73.2V76M317.5 73.1V84.4M318.5 79.6V88.1M319.5 84.2V93.2M321.5 85.9V100M322.5 95V97.7M324.5 94.4V101.6M325.5 98.4V106.1M326.5 98V104.6M332.5 84.2V100.3M334.5 92.1V98.7M337.5 91.3V96.9M339.5 91.9V94.6M340.5 92.7V94.5M344.5 83V90.9M345.5 86.4V92.2M346.5 89.6V94.9M347.5 92.5V99.2M348.5 95.5V103.4M349.5 97.3V100.7M350.5 96V107.6M353.5 98.8V101.9M356.5 97V109.6M357.5 106.7V109.1M358.5 108V114.5M360.5 105.3V113.1M361.5 91.7V126.6M362.5 106.8V117.8M367.5 103.1V107.5M368.5 103.7V111.2M370.5 108.9V118.1M373.5 108.4V118.1M374.5 114.3V117.7M376.5 113V122.9M381.5 89.6V94M385.5 80.5V84.8M388.5 67.5V71.9M391.5 61.5V64.8M393.5 60.5V65.3M394.5 61.7V70.7M399.5 52V60.9M400.5 57V63.8M401.5 62V66.7M403.5 56.1V68.3M404.5 62.3V72.3M405.5 66.2V77.8M409.5 64.5V66.7M411.5 65.2V70.7M412.5 63.3V72.8M413.5 71.5V77.8M414.5 72.7V82.7M415.5 80.6V90.2M416.5 84V100.4M419.5 90.3V95M420.5 94.1V96.4M426.5 78.4V86.5M427.5 85.4V93.8M428.5 85.2V95M429.5 92.7V102M430.5 94.3V116.5M431.5 109.6V137.5M434.5 109.1V112.5M435.5 106V117.1M437.5 82V114.8M439.5 112.9V172M440.5 126.6V133.8M441.5 127.9V138.7M442.5 132.8V149.9M443.5 142.4V155.2M445.5 138.9V149.8M446.5 143.4V157.2M449.5 148V154.6M450.5 153.4V172.2M452.5 163.3V193.9M453.5 187.9V220.7M459.5 157.2V163.2M460.5 159.6V166.8M464.5 134.1V153M468.5 133.8V141.2M469.5 138.3V149.7M470.5 142.8V153.4M471.5 146.3V155M473.5 144V149.1M475.5 143.3V154M476.5 147.1V168.1M477.5 164.5V171M481.5 162.3V172.2M482.5 163.5V178.4M483.5 176.5V179.1M486.5 168.3V171.5M487.5 168V174.5M488.5 170.1V178.2M489.5 173.3V176.1M492.5 168.6V175.6M494.5 171.9V183.8M496.5 179.1V186.7M497.5 182.4V192.1M501.5 180.3V189M502.5 183.1V189.9M503.5 188.4V197.6M504.5 193.2V202M505.5 199.2V207.6M506.5 201.6V205.9M508.5 203.2V213.2M509.5 208.2V215.4M513.5 185.5V188.9M514.5 185.4V194.3M516.5 192.1V200.2M517.5 196.6V201.5M519.5 191V198M527.5 173.7V179.1M528.5 175.3V181.6M529.5 178.1V188.4M530.5 182.1V188.8M535.5 176.4V181.5M536.5 177V184.2M537.5 179.2V187.1M538.5 181.4V188.3M539.5 185.1V191.1M540.5 184.7V195.6M541.5 190.5V194.9M543.5 190V194M544.5 191.1V197.2M547.5 188.2V197.6M549.5 193.8V202.1M550.5 199.2V205.2M551.5 202.4V209.9M553.5 203.5V206.7M558.5 189.7V198.4M564.5 188.2V193.6M565.5 192.4V195.5M566.5 191.2V201.8M567.5 198.4V206.5M570.5 197.4V204.2M571.5 200V203.1M572.5 201.2V207.3M574.5 199.4V203.3M576.5 199.9V204.3M580.5 190.7V197.2M581.5 194.3V197.2M584.5 193V195.1M585.5 193.7V195.8M587.5 192.8V199.9M590.5 194V208.8M591.5 204.4V212.4M592.5 207.4V211.3M593.5 208.1V211.2M594.5 207.6V212.7M595.5 209.9V218.8M596.5 216.6V223.4M597.5 218.8V227.7M598.5 223.1V227.3M599.5 224.7V230.6M600.5 224.2V229.4M605.5 216.5V224.5M606.5 221.9V232.1M607.5 227.9V239M611.5 221.6V227.8M612.5 225.9V233.6M613.5 230.2V234.9M614.5 232.4V236.3M619.5 212.7V217.4M620.5 214.4V221.9M623.5 215.3V218.1M628.5 207V211.7M629.5 208.2V214.5M632.5 208V214.7M635.5 207.7V211.8M637.5 207.1V210.4M638.5 206.4V212.7M639.5 208.3V214.8M641.5 211.1V218.1M645.5 211.9V215.5M647.5 211.1V218.5M648.5 213.9V220M649.5 216.7V220.9M650.5 218.9V221.4M651.5 218.9V222.8M652.5 220.5V224.7M654.5 216.4V220.1M657.5 212.7V217M663.5 204V210.8M664.5 206.5V214.1M665.5 210.3V213.3M668.5 205.1V212.4M669.5 211.2V214.6M670.5 213.5V216.1M671.5 214.4V216.3M674.5 213.4V218.5M675.5 214.8V216.9M679.5 208.3V212.5M680.5 209V213.7M681.5 211.1V212.8M684.5 207.1V212.1M685.5 210.2V213M687.5 210.3V219.8M688.5 217.7V234M692.5 222.8V226.9M695.5 222.5V225.6M699.5 219.9V223.6M705.5 217.8V221.1M707.5 217.2V220.3M709.5 216.6V221.2M710.5 217.9V224.2M715.5 210.9V215.9M717.5 210.9V218.7M718.5 215.9V218.4M720.5 211.8V215M721.5 213.9V218.9M722.5 216.4V223.1M725.5 210.2V212.3M726.5 211.2V214.8M728.5 212.5V216.5M730.5 209.8V214.5M732.5 210.6V214.1M733.5 212.1V213.7M734.5 211V215.5M735.5 212.5V214.8M736.5 213.4V218.1M737.5 214.8V217.9M739.5 214.5V220M740.5 217.9V220.9M745.5 207.7V211.7M748.5 205.7V210.4M749.5 206.5V210.4M750.5 207.6V210.4M752.5 206.7V212.2M759.5 201.2V204.7M762.5 199.1V204.8M763.5 201.4V209.7M765.5 204.2V207.5M766.5 204.1V209.1M770.5 202.6V208.3M773.5 204V207.1M776.5 202.7V207.5M778.5 201.7V205.1M784.5 196V198.9M785.5 197.7V200.7M786.5 199.4V203.5M787.5 201V204.9M788.5 203.2V207.8M789.5 206.8V208.7M790.5 206.6V210.5M791.5 206.6V211.2M793.5 206.3V210.3M794.5 208.3V214.3M795.5 212.3V216.1M798.5 210.6V214.2M799.5 211.6V214.7M800.5 211V215.7M804.5 209.3V211.3M805.5 209.4V212.5M806.5 211.7V215.7M807.5 213.9V222.7M808.5 221.6V224.8M813.5 218.8V226.9M815.5 221.5V223.9M816.5 221.4V225.3M819.5 221.5V225.5M821.5 219.8V222.5M825.5 218.1V221.1M830.5 212.7V217.2M831.5 212.7V216.8M833.5 211.9V215.7M836.5 211.8V219M839.5 215.2V220.8M840.5 219.2V223M845.5 217.3V220.6M846.5 217.6V224.1M849.5 214.5V218.7M850.5 216.4V219.7M853.5 214.7V219.8M854.5 217.5V220.5M856.5 217.4V220.2M858.5 216.9V221.2M859.5 217V220M862.5 215.1V217.3M864.5 214.9V218.5M866.5 215.9V218.1M867.5 216.4V222.2M868.5 220.9V227.8M869.5 223.5V229.9M870.5 228.1V234.4M874.5 226V228.2M876.5 225.2V229.9M878.5 222.8V227.4M880.5 225.9V228.8M882.5 226.3V230.6M889.5 212.6V216M890.5 213.8V216.5M891.5 212.9V218.6M892.5 216.1V219.3M895.5 213.8V217M896.5 215.2V220.3M897.5 215.6V222.5M898.5 219.9V226.2M903.5 216.3V219.3M904.5 216.6V224.8M905.5 221.7V228.2M907.5 226.3V229.1M908.5 226.8V232.1M909.5 230.6V233.5M911.5 229.7V233.6M912.5 231.4V233.8M914.5 230.2V234.9M915.5 233V236.8M916.5 232.2V236.9M919.5 232.7V234.4M921.5 231.9V236M924.5 231.4V238.4M925.5 234.3V254.8M928.5 245.2V253.5M929.5 252.4V254.6M931.5 250V259.7M932.5 256.8V292M935.5 282.6V286.4M939.5 275.5V280.4M940.5 277V280.3M941.5 277.2V283.5M942.5 281V285.7M945.5 277.2V280.1M947.5 274.7V277.7M949.5 274.6V277.6M950.5 276.8V280.5M951.5 278.5V282.9M954.5 276.5V279.7M956.5 274.3V277.2M958.5 271.2V274.6M959.5 273.2V276.2M960.5 274.3V278.2M961.5 274.8V283.4M963.5 279.2V280.7M964.5 279.9V282.5M965.5 280.8V285.2M966.5 282.8V285.4M967.5 283.6V291.3M968.5 287.2V297.5M974.5 289.7V292M979.5 285.3V289.4M983.5 286V290.2M985.5 287.9V294.4M986.5 293.2V297.8M987.5 295.4V301.5M990.5 295.4V297.7M991.5 296V298.4M995.5 292.4V297.3M996.5 294.6V298.7M1000.5 294.5V301.3M1004.5 297V300.3M1005.5 299.1V303.8M1007.5 298.4V302.1M1013.5 282.9V286.3M1014.5 284.4V289M1015.5 287.3V291.5M1019.5 287.4V289.1M1022.5 283.5V288.9M1024.5 285.2V291.4M1026.5 286.9V291.8M1027.5 289.4V292.5M1028.5 290.3V293.5M1033.5 287.2V290M1035.5 287V291.2M1037.5 288.3V291.7M1039.5 287.6V290.4M1041.5 288.7V290.3M1042.5 289V292M1043.5 290.3V291.8M1051.5 285.1V287.7M1053.5 283.9V287.6M1056.5 281.3V287.1M1063.5 279.3V283.8M1065.5 279.3V281.5M1066.5 279.9V284.2M1068.5 280.9V286.1M1070.5 282.5V285.8M1071.5 284.6V288.5M1073.5 286.7V290.3M1076.5 283.5V287.6M1077.5 286.2V293.3M1078.5 291.6V296.8M1079.5 295.5V298M1081.5 295.4V297.4M1082.5 295.6V299.9M1083.5 298V300.1M1085.5 297.9V299.8M1087.5 297.8V301.6M1088.5 299.4V305.1M1089.5 303V307.7M1090.5 306.6V311.8M1091.5 308.8V312.1M1095.5 303.5V306.9M1096.5 305.1V309.3M1097.5 306.9V310M1098.5 307.2V310.8M1101.5 307.7V309.6M1102.5 308.8V311.2M1103.5 308.9V312.5M1108.5 307.8V311.1M1110.5 308.1V311.7M1116.5 304.5V307.6M1119.5 303.6V307.7M1124.5 301.4V304.1M1125.5 302V305.1M1126.5 302.1V304.9M1128.5 303.9V306.7M1129.5 305.3V307.4M1132.5 305.1V306.7M1134.5 304.4V306.3M1138.5 301.9V304.7M1140.5 302.1V304M1147.5 292.2V295.7M1148.5 292.5V294.4M1150.5 292.5V296.7M1151.5 295.3V298.1M1152.5 294.4V298.2M1153.5 294.9V298.2M1156.5 294.6V296.5M1158.5 293.9V296.5M1161.5 293.9V297.6M1162.5 294.9V298M1163.5 295.5V299.8M1175.5 274.4V278.2M1176.5 276.1V280.6M1178.5 276.8V279.3M1181.5 276.8V281.1M1184.5 278V283.8M1185.5 280.6V283.4M1190.5 275.6V279.7M1193.5 265.7V272M1194.5 269.1V275M1197.5 269.8V273.2M1198.5 270.2V273.7M1199.5 272.9V275.4M1206.5 260.8V264.5M1208.5 261.9V267M1209.5 264.9V267.2M1211.5 265.1V268.7M1212.5 266.9V268.5M1214.5 266.2V269.6M1218.5 261.1V267.5"/>
<path stroke="#1fa874" stroke-width="1" d="M27.5 69.3V70M28.5 68.6V69.3M30.5 68.4V69.2M31.5 66.1V68.4M33.5 66.9V67.5M36.5 71V71.6M40.5 72.6V73.5M41.5 72V72.6M42.5 71.3V72M43.5 70.5V71.3M45.5 71.1V71.8M46.5 70.5V71.1M48.5 69.7V71.1M49.5 68.5V69.7M51.5 68.4V71M59.5 74.5V75.1M61.5 76.8V78.1M63.5 77.4V80M69.5 105.4V109.7M71.5 103.6V106M73.5 103.1V106.7M74.5 101.2V103.1M75.5 95.5V101.2M80.5 115.6V120M81.5 107.5V115.6M82.5 106.4V107.5M86.5 111.3V115.2M99.5 141.3V153.2M100.5 133.8V141.3M101.5 133.2V133.8M103.5 128.6V135M105.5 121.6V129.8M106.5 120.3V121.6M111.5 124.7V126.4M117.5 145.4V151.4M118.5 143.3V145.4M122.5 142.6V145.7M123.5 142V142.6M124.5 140.1V142M126.5 140.3V140.9M129.5 143.4V145.7M133.5 147.4V148.6M135.5 144.7V147.4M138.5 146.5V147.1M139.5 146V146.5M140.5 145.4V146M142.5 143.6V146.8M143.5 140.6V143.6M146.5 142.2V145.4M147.5 139.3V142.2M150.5 136.2V139.8M151.5 133.6V136.2M157.5 138.8V140.4M159.5 141.4V142.2M160.5 140.3V141.4M161.5 138V140.3M169.5 153.9V154.5M177.5 159.1V161.1M178.5 158V159.1M180.5 157.6V158.6M184.5 163.5V166.1M185.5 161.8V163.5M188.5 161.2V163.9M190.5 160V161.2M202.5 185.4V188.7M204.5 179.9V185.4M205.5 177.6V179.9M206.5 170V177.6M207.5 168.4V170M208.5 167.8V168.4M211.5 170.8V173.2M212.5 168.2V170.8M213.5 166.4V168.2M215.5 165V167M218.5 166.1V168.9M219.5 161.1V166.1M223.5 162.6V165.3M225.5 165.3V166.9M228.5 165.5V169.8M229.5 164.5V165.5M230.5 163.7V164.5M232.5 163.1V163.7M234.5 160.7V163.7M235.5 156.1V160.7M236.5 150.3V156.1M238.5 152.6V153.2M239.5 149.4V152.6M240.5 147.5V149.4M243.5 153.5V158.1M246.5 151.6V154.1M248.5 154.7V155.6M249.5 151.3V154.7M250.5 149.1V151.3M253.5 148.1V155.1M254.5 142.2V148.1M255.5 125V142.2M256.5 82.7V125M257.5 78.8V82.7M262.5 104.3V105.6M263.5 95.6V104.3M266.5 94.5V101.6M267.5 87.8V94.5M270.5 93.9V95.7M271.5 93.3V93.9M274.5 91.9V94.9M275.5 84.7V91.9M276.5 82.4V84.7M280.5 98.8V99.3M287.5 115.5V116.8M291.5 123V126.1M293.5 128V132M294.5 111.6V128M295.5 99.2V111.6M296.5 92.9V99.2M297.5 87.7V92.9M301.5 93.2V95.7M302.5 92.6V93.2M303.5 92.1V92.6M304.5 91.5V92.1M305.5 89.8V91.5M306.5 87.6V89.8M307.5 76.3V87.6M308.5 66.5V76.3M312.5 75.3V75.9M315.5 75.1V77.4M320.5 88.1V88.7M323.5 95.6V96.3M328.5 100V103.1M329.5 98.6V100M330.5 93V98.6M331.5 85.7V93M333.5 95.5V96.1M335.5 96.4V97.3M336.5 92.2V96.4M338.5 92.2V94.6M342.5 90.9V94M343.5 83.7V90.9M351.5 103.1V104.8M352.5 99.4V103.1M354.5 99.4V100M359.5 107.7V113.8M363.5 114.2V116.4M364.5 111.7V114.2M365.5 109.4V111.7M366.5 104.1V109.4M371.5 112.7V114.8M372.5 111.4V112.7M375.5 114.6V116.8M377.5 107.6V120.7M378.5 94.3V107.6M379.5 92.9V94.3M380.5 90.1V92.9M383.5 86.2V91.2M384.5 81.6V86.2M386.5 77.4V84.2M387.5 68.5V77.4M389.5 67.8V70.9M390.5 62.8V67.8M392.5 62V64.3M395.5 69.1V70.1M397.5 62.4V69.1M398.5 55.2V62.4M402.5 59.9V63.4M406.5 72V74.6M407.5 71.4V72M408.5 65.4V71.4M417.5 97.1V98.6M418.5 93.3V97.1M421.5 89.1V95.4M422.5 82.9V89.1M423.5 81.9V82.9M425.5 79.1V81.9M432.5 113.2V117.9M433.5 110.3V113.2M436.5 109.1V114.2M444.5 139.6V149.6M447.5 149.2V153.4M448.5 148.6V149.2M454.5 204.6V211.6M455.5 185.3V204.6M456.5 172.8V185.3M457.5 167.2V172.8M458.5 162V167.2M461.5 150.8V163.7M462.5 138V150.8M463.5 136.6V138M466.5 142.2V151.2M467.5 134.6V142.2M472.5 146.1V150.5M474.5 145.2V146.7M478.5 166.6V169.4M480.5 163.8V166.6M484.5 173.3V178.5M485.5 169.5V173.3M490.5 174.6V175.5M491.5 171.1V174.6M495.5 180.4V181M498.5 190.4V191.2M499.5 184.3V190.4M500.5 183.1V184.3M510.5 203V212.4M511.5 196.8V203M512.5 186.4V196.8M515.5 193.2V193.8M518.5 192.8V198.8M521.5 192.2V195.7M522.5 188.2V192.2M523.5 185.8V188.2M524.5 181.4V185.8M525.5 177.9V181.4M526.5 176V177.9M531.5 185.8V186.8M532.5 180.6V185.8M533.5 177V180.6M542.5 192.1V193.1M545.5 192.9V193.6M546.5 192.3V192.9M552.5 204.4V207.6M554.5 201.3V205.3M555.5 197.9V201.3M556.5 195.7V197.9M557.5 191.7V195.7M559.5 196V196.9M560.5 194.8V196M561.5 193.6V194.8M563.5 192V193.6M568.5 202V202.6M569.5 200.1V202M573.5 201.8V204.9M577.5 201.4V203M578.5 199.5V201.4M579.5 194.2V199.5M582.5 195V196.3M583.5 194V195M586.5 194V195.2M588.5 196.2V198.9M601.5 226.7V228.9M602.5 223.9V226.7M604.5 218.4V223.9M608.5 229.5V234.6M609.5 224.5V229.5M610.5 223.3V224.5M615.5 229V235.1M616.5 220.8V229M618.5 215.1V220.8M621.5 217.4V219M622.5 216V217.4M624.5 212.3V216.6M625.5 211.2V212.3M626.5 210V211.2M627.5 208.6V210M630.5 211.1V214M633.5 210.8V213M634.5 208.4V210.8M636.5 207.7V209M640.5 211.6V212.5M642.5 213.2V213.9M643.5 212.6V213.2M646.5 211.5V213.2M653.5 218.7V221.6M655.5 216.9V219.3M656.5 214.8V216.9M659.5 214.9V216.5M660.5 213.6V214.9M661.5 211.3V213.6M662.5 208.8V211.3M666.5 209.3V212.6M667.5 208.3V209.3M673.5 215.1V215.6M676.5 214.6V216.3M677.5 212V214.6M678.5 210.1V212M682.5 211V212.1M683.5 208.2V211M689.5 228.7V231.3M690.5 225.2V228.7M691.5 224.6V225.2M693.5 224V226.2M694.5 223.4V224M696.5 224.2V225.2M697.5 223.6V224.2M698.5 221.7V223.6M701.5 221V222.3M702.5 220.1V221M703.5 219.5V220.1M704.5 218.9V219.5M706.5 217.6V219.5M708.5 217.8V218.9M711.5 217.7V221.1M712.5 213.3V217.7M714.5 211.3V213.3M716.5 212.9V213.5M719.5 213.4V217.2M723.5 215.9V221.6M724.5 211V215.9M729.5 211.9V215.3M731.5 211.7V212.5M738.5 216.8V217.4M742.5 215.8V219.8M743.5 213V215.8M744.5 210.7V213M746.5 210.5V211.3M747.5 206.6V210.5M751.5 207.9V208.9M753.5 209.2V210.8M754.5 208.5V209.2M756.5 206.5V208.5M757.5 204.1V206.5M758.5 203.1V204.1M760.5 201.2V203.9M761.5 200.6V201.2M764.5 206V207M767.5 206.9V207.5M769.5 205.2V206.9M771.5 207.1V207.7M772.5 204.7V207.1M774.5 204.5V205.3M775.5 203.2V204.5M777.5 203V206.9M779.5 203.2V204.8M780.5 199.9V203.2M781.5 198.6V199.9M783.5 196.8V198.6M792.5 206.6V210M797.5 211V214.9M801.5 212.9V215.2M802.5 212.1V212.9M803.5 210.2V212.1M809.5 221V223.9M811.5 220.4V221M812.5 219.9V220.4M814.5 222V223.7M817.5 223.8V224.4M818.5 223.2V223.8M820.5 220.7V224.1M822.5 219.6V221.3M823.5 218.8V219.6M826.5 217.7V219.4M827.5 217.1V217.7M828.5 215.2V217.1M829.5 214V215.2M832.5 214.1V215.9M834.5 214V214.7M835.5 213.1V214M838.5 215.9V216.6M841.5 220.5V222.6M842.5 219.3V220.5M843.5 218.7V219.3M844.5 218.1V218.7M847.5 220.7V221.3M848.5 217.6V220.7M852.5 215.3V218.8M855.5 218.1V219.2M857.5 217.9V219.1M860.5 216.3V219.1M861.5 215.7V216.3M863.5 215.8V216.5M871.5 230.9V233M872.5 228.3V230.9M873.5 227.1V228.3M875.5 227.1V227.7M877.5 224.9V228M881.5 226.6V227.6M883.5 229.4V230M884.5 228.8V229.4M885.5 227.6V228.8M886.5 223.4V227.6M887.5 215.5V223.4M888.5 213V215.5M894.5 215.5V217.9M899.5 220.1V222.9M900.5 219.5V220.1M901.5 218.9V219.5M902.5 217.2V218.9M910.5 231.6V232.2M913.5 232.5V233.3M917.5 234V235.1M918.5 233.4V234M922.5 235V235.5M923.5 233V235M926.5 250.5V252.6M927.5 248.8V250.5M930.5 250.8V254M933.5 284.5V288.2M936.5 280.1V285.1M937.5 279.5V280.1M938.5 276.4V279.5M943.5 279.6V283.3M944.5 278.6V279.6M946.5 275.8V279.2M952.5 278.7V281.6M953.5 277.2V278.7M955.5 275.5V279M957.5 273.5V276.1M969.5 295.6V296.2M970.5 295V295.6M971.5 293.7V295M972.5 291.2V293.7M973.5 290.3V291.2M976.5 288.7V290.9M977.5 287V288.7M978.5 286.4V287M980.5 287.7V288.3M981.5 287.2V287.7M982.5 286.6V287.2M984.5 288.9V289.5M988.5 296V298.3M992.5 296.9V297.6M993.5 295.4V296.9M994.5 294.8V295.4M997.5 296.6V298.2M998.5 295.9V296.6M999.5 295.1V295.9M1001.5 298.4V299M1002.5 297.8V298.4M1006.5 300.3V300.9M1008.5 295.8V301.8M1009.5 292.6V295.8M1010.5 289.7V292.6M1011.5 286.2V289.7M1012.5 283.7V286.2M1016.5 288.8V289.5M1018.5 288.2V288.8M1020.5 286.1V288.8M1021.5 284.6V286.1M1023.5 286.5V288M1025.5 289.2V289.8M1029.5 291.3V291.9M1031.5 288.2V291.3M1032.5 287.6V288.2M1034.5 288.1V288.7M1036.5 289.6V290.2M1038.5 288.7V290.2M1040.5 289V289.6M1045.5 290.7V291.3M1046.5 289.7V290.7M1047.5 289V289.7M1048.5 288V289M1049.5 286.3V288M1050.5 285.7V286.3M1052.5 285.4V286.7M1054.5 283.8V286.9M1055.5 283.2V283.8M1057.5 285.6V286.8M1059.5 282V285.6M1060.5 281.4V282M1061.5 280.8V281.4M1062.5 279.8V280.8M1064.5 279.7V281.4M1067.5 282.2V282.8M1069.5 284V284.6M1074.5 288V289.7M1075.5 285.5V288M1080.5 296.4V297M1084.5 298.5V299.4M1092.5 307.4V311.1M1093.5 306.6V307.4M1094.5 304.8V306.6M1100.5 308.5V309.1M1104.5 311.3V311.9M1105.5 310.7V311.3M1106.5 309V310.7M1107.5 308.4V309M1109.5 309.5V310.1M1111.5 308.6V310.1M1112.5 308V308.6M1114.5 306V308M1115.5 305.4V306M1117.5 305.9V306.5M1118.5 304.3V305.9M1120.5 305.1V306M1121.5 303.7V305.1M1122.5 302.6V303.7M1123.5 302V302.6M1130.5 306.1V306.7M1131.5 305.5V306.1M1133.5 305.2V306.1M1135.5 304.7V305.8M1136.5 303V304.7M1137.5 302.4V303M1139.5 302.7V303.3M1142.5 302.2V303.3M1143.5 296.5V302.2M1144.5 294.8V296.5M1145.5 294.1V294.8M1146.5 292.8V294.1M1149.5 293.3V293.9M1154.5 295.2V297.4M1157.5 294.5V295.8M1159.5 295.1V295.7M1160.5 294.5V295.1M1164.5 297.9V298.5M1165.5 297.4V297.9M1166.5 290.5V297.4M1167.5 284.9V290.5M1169.5 282.2V284.9M1170.5 280.7V282.2M1171.5 280.1V280.7M1172.5 277.7V280.1M1173.5 276.9V277.7M1174.5 274.8V276.9M1177.5 278.3V279.1M1179.5 278.1V278.8M1180.5 277.3V278.1M1183.5 279.7V280.3M1186.5 280V281.8M1187.5 278.7V280M1188.5 278.1V278.7M1189.5 276.7V278.1M1191.5 275.8V277.8M1192.5 267.3V275.8M1195.5 271.9V272.6M1200.5 271.6V273.9M1201.5 267.1V271.6M1202.5 264.4V267.1M1203.5 262.3V264.4M1204.5 261.7V262.3M1205.5 261.2V261.7M1207.5 263.2V263.8M1213.5 267V268M1215.5 267.1V268.7M1216.5 265.1V267.1M1217.5 262V265.1"/>
<path stroke="#e5534f" stroke-width="1" d="M29.5 68.6V69.2M32.5 66.1V67.5M34.5 66.9V70M35.5 70V71.6M37.5 71V72.8M39.5 72.8V73.5M44.5 70.5V71.8M47.5 70.5V71.1M50.5 68.5V71M53.5 68.4V69M54.5 69V69.5M55.5 69.5V70.1M56.5 70.1V72.6M57.5 72.6V74.2M58.5 74.2V75.1M60.5 74.5V78.1M62.5 76.8V80M64.5 77.4V82.7M66.5 82.7V96.8M67.5 96.8V104.1M68.5 104.1V109.7M70.5 105.4V106M72.5 103.6V106.7M76.5 95.5V104.8M77.5 104.8V112.6M78.5 112.6V120M83.5 106.4V109.3M84.5 109.3V109.9M85.5 109.9V115.2M87.5 111.3V111.9M88.5 111.9V114.3M89.5 114.3V121.6M90.5 121.6V122.8M91.5 122.8V128M92.5 128V133.2M94.5 133.2V137.6M95.5 137.6V140.2M96.5 140.2V149.9M97.5 149.9V151.3M98.5 151.3V153.2M102.5 133.2V135M104.5 128.6V129.8M108.5 120.3V124M109.5 124V124.8M110.5 124.8V126.4M112.5 124.7V132.9M113.5 132.9V135.3M114.5 135.3V139.5M115.5 139.5V144.8M116.5 144.8V151.4M119.5 143.3V144.4M121.5 144.4V145.7M125.5 140.1V140.9M127.5 140.3V144.8M128.5 144.8V145.7M130.5 143.4V144.6M131.5 144.6V148.1M132.5 148.1V148.6M136.5 144.7V145.6M137.5 145.6V147.1M141.5 145.4V146.8M144.5 140.6V144.5M145.5 144.5V145.4M149.5 139.3V139.8M152.5 133.6V134.2M153.5 134.2V137.2M154.5 137.2V138.3M155.5 138.3V139.8M156.5 139.8V140.4M158.5 138.8V142.2M163.5 138V142.7M164.5 142.7V147.3M165.5 147.3V150.2M166.5 150.2V150.8M167.5 150.8V151.4M168.5 151.4V154.5M170.5 153.9V155.2M171.5 155.2V156.1M172.5 156.1V157.9M173.5 157.9V158.5M174.5 158.5V160.2M175.5 160.2V161.1M179.5 158V158.6M181.5 157.6V160.1M182.5 160.1V165.2M183.5 165.2V166.1M186.5 161.8V162.9M187.5 162.9V163.9M191.5 160V164.2M192.5 164.2V169M193.5 169V174.6M194.5 174.6V179.7M195.5 179.7V180.3M196.5 180.3V181.4M197.5 181.4V182.1M198.5 182.1V182.7M199.5 182.7V183.3M200.5 183.3V186.2M201.5 186.2V188.7M209.5 167.8V170.7M210.5 170.7V173.2M214.5 166.4V167M216.5 165V168.9M220.5 161.1V161.7M221.5 161.7V163.6M222.5 163.6V165.3M224.5 162.6V166.9M226.5 165.3V167.3M227.5 167.3V169.8M233.5 163.1V163.7M237.5 150.3V153.2M241.5 147.5V156.5M242.5 156.5V158.1M244.5 153.5V154.1M247.5 151.6V155.6M251.5 149.1V153M252.5 153V155.1M259.5 78.8V84.3M260.5 84.3V97.8M261.5 97.8V105.6M264.5 95.6V98.4M265.5 98.4V101.6M268.5 87.8V94.1M269.5 94.1V95.7M273.5 93.3V94.9M277.5 82.4V92.8M278.5 92.8V94.9M279.5 94.9V99.3M281.5 98.8V104M282.5 104V104.6M283.5 104.6V105.2M284.5 105.2V113.5M285.5 113.5V116.8M288.5 115.5V117.5M289.5 117.5V120.8M290.5 120.8V126.1M292.5 123V132M298.5 87.7V94.9M299.5 94.9V95.7M309.5 66.5V72.1M310.5 72.1V75.3M311.5 75.3V75.9M314.5 75.3V77.4M316.5 75.1V75.7M317.5 75.7V82M318.5 82V85M319.5 85V88.7M321.5 88.1V95.7M322.5 95.7V96.3M324.5 95.6V99.6M325.5 99.6V100.2M326.5 100.2V103.1M332.5 85.7V96.1M334.5 95.5V97.3M337.5 92.2V94.6M339.5 92.2V93.1M340.5 93.1V94M344.5 83.7V87.5M345.5 87.5V91.4M346.5 91.4V93.4M347.5 93.4V96.3M348.5 96.3V99M349.5 99V100.1M350.5 100.1V104.8M353.5 99.4V100M356.5 99.4V107.7M357.5 107.7V108.8M358.5 108.8V113.8M360.5 107.7V110.9M361.5 109.1V110.9M362.5 109.1V116.4M367.5 104.1V106.4M368.5 106.4V110M370.5 110V114.8M373.5 111.4V114.7M374.5 114.7V116.8M376.5 114.6V120.7M381.5 90.1V91.2M385.5 81.6V84.2M388.5 68.5V70.9M391.5 62.8V64.3M393.5 62V64.9M394.5 64.9V70.1M399.5 55.2V57.3M400.5 57.3V62.8M401.5 62.8V63.4M403.5 59.9V63.9M404.5 63.9V69.3M405.5 69.3V74.6M409.5 65.4V66M411.5 66V66.6M412.5 66.6V72.3M413.5 72.3V76.5M414.5 76.5V82.3M415.5 82.3V89.2M416.5 89.2V98.6M419.5 93.3V94.5M420.5 94.5V95.4M426.5 79.1V85.9M427.5 85.9V91.7M428.5 91.7V94.6M429.5 94.6V100.2M430.5 100.2V113.5M431.5 113.5V117.9M434.5 110.3V111.3M435.5 111.3V114.2M437.5 109.1V113.4M439.5 113.4V128.2M440.5 128.2V129.5M441.5 129.5V135.3M442.5 135.3V144.7M443.5 144.7V149.6M445.5 139.6V146.8M446.5 146.8V153.4M449.5 148.6V154.2M450.5 154.2V169.5M452.5 169.5V188.6M453.5 188.6V211.6M459.5 162V162.6M460.5 162.6V163.7M464.5 136.6V151.2M468.5 134.6V140.5M469.5 140.5V146.9M470.5 146.9V149.5M471.5 149.5V150.5M473.5 146.1V146.7M475.5 145.2V152.5M476.5 152.5V166.5M477.5 166.5V169.4M481.5 163.8V170M482.5 170V177.9M483.5 177.9V178.5M486.5 169.5V170.6M487.5 170.6V173.7M488.5 173.7V174.8M489.5 174.8V175.5M492.5 171.1V174.8M494.5 174.8V181M496.5 180.4V183.8M497.5 183.8V191.2M501.5 183.1V188.4M502.5 188.4V189.3M503.5 189.3V195.6M504.5 195.6V200.9M505.5 200.9V204.5M506.5 204.5V205.4M508.5 205.4V209.2M509.5 209.2V212.4M513.5 186.4V187M514.5 187V193.8M516.5 193.2V197.8M517.5 197.8V198.8M519.5 192.8V195.7M527.5 176V176.5M528.5 176.5V179.9M529.5 179.9V185M530.5 185V186.8M535.5 177V178.2M536.5 178.2V181.3M537.5 181.3V183.6M538.5 183.6V186.1M539.5 186.1V187.5M540.5 187.5V192.5M541.5 192.5V193.1M543.5 192.1V193M544.5 193V193.6M547.5 192.3V195.2M549.5 195.2V201.5M550.5 201.5V203.3M551.5 203.3V207.6M553.5 204.4V205.3M558.5 191.7V196.9M564.5 192V192.8M565.5 192.8V195M566.5 195V199.6M567.5 199.6V202.6M570.5 200.1V201.2M571.5 201.2V202.1M572.5 202.1V204.9M574.5 201.8V202.4M576.5 202.4V203M580.5 194.2V194.8M581.5 194.8V196.3M584.5 194V194.6M585.5 194.6V195.2M587.5 194V198.9M590.5 196.2V204.8M591.5 204.8V208M592.5 208V208.6M593.5 208.6V210.3M594.5 210.3V210.8M595.5 210.8V218.4M596.5 218.4V220.8M597.5 220.8V225.1M598.5 225.1V225.9M599.5 225.9V226.5M600.5 226.5V228.9M605.5 218.4V223M606.5 223V229.9M607.5 229.9V234.6M611.5 223.3V227M612.5 227V231.2M613.5 231.2V233M614.5 233V235.1M619.5 215.1V215.7M620.5 215.7V219M623.5 216V216.6M628.5 208.6V211.1M629.5 211.1V214M632.5 211.1V213M635.5 208.4V209M637.5 207.7V209M638.5 209V210.2M639.5 210.2V212.5M641.5 211.6V213.9M645.5 212.6V213.2M647.5 211.5V215.2M648.5 215.2V217.9M649.5 217.9V219.9M650.5 219.9V220.4M651.5 220.4V221M652.5 221V221.6M654.5 218.7V219.3M657.5 214.8V216.5M663.5 208.8V209.4M664.5 209.4V211.5M665.5 211.5V212.6M668.5 208.3V212.1M669.5 212.1V213.9M670.5 213.9V214.8M671.5 214.8V215.6M674.5 215.1V215.7M675.5 215.7V216.3M679.5 210.1V210.9M680.5 210.9V211.5M681.5 211.5V212.1M684.5 208.2V211.1M685.5 211.1V211.7M687.5 211.7V219.4M688.5 219.4V231.3M692.5 224.6V226.2M695.5 223.4V225.2M699.5 221.7V222.3M705.5 218.9V219.5M707.5 217.6V218.9M709.5 217.8V218.7M710.5 218.7V221.1M715.5 211.3V213.5M717.5 212.9V216.6M718.5 216.6V217.2M720.5 213.4V214.5M721.5 214.5V218M722.5 218V221.6M725.5 211V211.7M726.5 211.7V213.6M728.5 213.6V215.3M730.5 211.9V212.5M732.5 211.7V212.5M733.5 212.5V213.3M734.5 213.3V213.9M735.5 213.9V214.5M736.5 214.5V215.5M737.5 215.5V217.4M739.5 216.8V219.2M740.5 219.2V219.8M745.5 210.7V211.3M748.5 206.6V207.6M749.5 207.6V208.2M750.5 208.2V208.9M752.5 207.9V210.8M759.5 203.1V203.9M762.5 200.6V203.5M763.5 203.5V207M765.5 206V206.6M766.5 206.6V207.5M770.5 205.2V207.7M773.5 204.7V205.3M776.5 203.2V206.9M778.5 203V204.8M784.5 196.8V198.6M785.5 198.6V200M786.5 200V201.5M787.5 201.5V204.6M788.5 204.6V207.2M789.5 207.2V207.8M790.5 207.8V209.4M791.5 209.4V210M793.5 206.6V209.7M794.5 209.7V213M795.5 213V214.9M798.5 211V212.7M799.5 212.7V213.5M800.5 213.5V215.2M804.5 210.2V210.8M805.5 210.8V212.2M806.5 212.2V214.6M807.5 214.6V222M808.5 222V223.9M813.5 219.9V223.7M815.5 222V222.7M816.5 222.7V224.4M819.5 223.2V224.1M821.5 220.7V221.3M825.5 218.8V219.4M830.5 214V215.3M831.5 215.3V215.9M833.5 214.1V214.7M836.5 213.1V216.6M839.5 215.9V219.5M840.5 219.5V222.6M845.5 218.1V219.4M846.5 219.4V221.3M849.5 217.6V218.2M850.5 218.2V218.8M853.5 215.3V218.6M854.5 218.6V219.2M856.5 218.1V219.1M858.5 217.9V218.5M859.5 218.5V219.1M862.5 215.7V216.5M864.5 215.8V216.4M866.5 216.4V217.2M867.5 217.2V221.3M868.5 221.3V225.4M869.5 225.4V228.6M870.5 228.6V233M874.5 227.1V227.7M876.5 227.1V228M878.5 224.9V226.7M880.5 226.7V227.6M882.5 226.6V230M889.5 213V214.4M890.5 214.4V215M891.5 215V217.1M892.5 217.1V217.9M895.5 215.5V216.1M896.5 216.1V219M897.5 219V221.5M898.5 221.5V222.9M903.5 217.2V217.8M904.5 217.8V223.3M905.5 223.3V227.1M907.5 227.1V227.7M908.5 227.7V231.6M909.5 231.6V232.2M911.5 231.6V232.1M912.5 232.1V233.3M914.5 232.5V233.9M915.5 233.9V234.5M916.5 234.5V235.1M919.5 233.4V234M921.5 234V235.5M924.5 233V235.7M925.5 235.7V252.6M928.5 248.8V253.1M929.5 253.1V254M931.5 250.8V258.5M932.5 258.5V288.2M935.5 284.5V285.1M939.5 276.4V277.4M940.5 277.4V279.7M941.5 279.7V282.7M942.5 282.7V283.3M945.5 278.6V279.2M947.5 275.8V276.4M949.5 276.4V277.1M950.5 277.1V279M951.5 279V281.6M954.5 277.2V279M956.5 275.5V276.1M958.5 273.5V274.2M959.5 274.2V275M960.5 275V276.8M961.5 276.8V279.7M963.5 279.7V280.3M964.5 280.3V282.1M965.5 282.1V283.4M966.5 283.4V284.3M967.5 284.3V290.3M968.5 290.3V296.2M974.5 290.3V290.9M979.5 286.4V288.3M983.5 286.6V289.5M985.5 288.9V293.5M986.5 293.5V296.1M987.5 296.1V298.3M990.5 296V296.8M991.5 296.8V297.6M995.5 294.8V296.2M996.5 296.2V298.2M1000.5 295.1V299M1004.5 297.8V299.6M1005.5 299.6V300.9M1007.5 300.3V301.8M1013.5 283.7V285.5M1014.5 285.5V288.1M1015.5 288.1V289.5M1019.5 288.2V288.8M1022.5 284.6V288M1024.5 286.5V289.8M1026.5 289.2V289.8M1027.5 289.8V291.3M1028.5 291.3V291.9M1033.5 287.6V288.7M1035.5 288.1V290.2M1037.5 289.6V290.2M1039.5 288.7V289.6M1041.5 289V289.6M1042.5 289.6V290.7M1043.5 290.7V291.3M1051.5 285.7V286.7M1053.5 285.4V286.9M1056.5 283.2V286.8M1063.5 279.8V281.4M1065.5 279.7V280.7M1066.5 280.7V282.8M1068.5 282.2V284.6M1070.5 284V285.3M1071.5 285.3V287.6M1073.5 287.6V289.7M1076.5 285.5V287.1M1077.5 287.1V292.6M1078.5 292.6V296.4M1079.5 296.4V297M1081.5 296.4V297M1082.5 297V298.8M1083.5 298.8V299.4M1085.5 298.5V299.3M1087.5 299.3V300.5M1088.5 300.5V303.9M1089.5 303.9V307.1M1090.5 307.1V310.5M1091.5 310.5V311.1M1095.5 304.8V306.1M1096.5 306.1V307.9M1097.5 307.9V308.4M1098.5 308.4V309.1M1101.5 308.5V309.1M1102.5 309.1V309.7M1103.5 309.7V311.9M1108.5 308.4V310.1M1110.5 309.5V310.1M1116.5 305.4V306.5M1119.5 304.3V306M1124.5 302V302.7M1125.5 302.7V303.7M1126.5 303.7V304.4M1128.5 304.4V306M1129.5 306V306.7M1132.5 305.5V306.1M1134.5 305.2V305.8M1138.5 302.4V303.3M1140.5 302.7V303.3M1147.5 292.8V293.4M1148.5 293.4V293.9M1150.5 293.3V295.6M1151.5 295.6V296.2M1152.5 296.2V296.8M1153.5 296.8V297.4M1156.5 295.2V295.8M1158.5 294.5V295.7M1161.5 294.5V296.1M1162.5 296.1V296.9M1163.5 296.9V298.5M1175.5 274.8V276.4M1176.5 276.4V279.1M1178.5 278.3V278.8M1181.5 277.3V280.3M1184.5 279.7V280.9M1185.5 280.9V281.8M1190.5 276.7V277.8M1193.5 267.3V269.9M1194.5 269.9V272.6M1197.5 271.9V272.5M1198.5 272.5V273.3M1199.5 273.3V273.9M1206.5 261.2V263.8M1208.5 263.2V265.9M1209.5 265.9V266.5M1211.5 266.5V267.4M1212.5 267.4V268M1214.5 267V268.7M1218.5 262V266.1"/>
</g>
<path d="M27.7 459.2L29.7 459.2L31.1 439.2L33.7 439.2L36.1 429.6L36.7 419.1L37.7 429.6L38.7 419.1L39.7 429.6L42.1 429.6L43.1 419.1L44.1 429.6L45.1 419.1L46.5 419.1L49.1 409.5L50.1 419.1L51.7 419.1L52.7 429.6L53.7 419.1L56.1 419.1L58.5 439.2L60.1 439.2L61.7 449.2L62.7 439.2L64.2 449.2L66.8 459.2L68.2 459.2L69.8 449.2L71.2 449.2L72.2 439.2L73.2 449.2L74.6 439.2L76.2 449.2L78.2 439.2L80.2 429.6L81.2 429.6L83.6 409.5L88.6 409.5L90.6 429.6L92.2 429.6L94.2 439.2L96.6 449.2L98.6 449.2L99.6 439.2L101.2 449.2L102.6 439.2L104.6 449.2L106.6 439.2L108.7 439.2L110.3 429.6L111.7 429.6L112.3 419.1L113.3 429.6L116.7 429.6L119.3 399.5L121.3 399.5L122.7 409.5L124.3 409.5L125.9 419.1L128.3 429.6L134.7 429.6L136.3 419.1L137.9 419.1L139.3 429.6L141.3 439.2L142.3 449.2L143.9 439.2L145.3 439.2L147.3 429.6L150.8 409.5L154.4 409.5L156 419.1L156.8 409.5L157.4 419.1L158.4 409.5L160 409.5L161 399.5L164 399.5L165 409.5L166.4 399.5L168.4 419.1L169.4 409.5L170.4 419.1L172 429.6L173.4 439.2L174.4 429.6L181.4 429.6L182.4 439.2L183.4 429.6L185.4 419.1L189.4 419.1L190.8 429.6L194.1 429.6L196.1 449.2L198.1 429.6L199.5 439.2L201.5 449.2L203.5 429.6L206.5 429.6L207.5 439.2L208.5 429.6L209.5 439.2L210.5 429.6L212.5 419.1L214.5 399.5L216.9 389.5L218.9 399.5L221.5 399.5L223.1 380L225.5 399.5L227.5 419.1L230.1 399.5L234.1 399.5L236.2 419.1L237.2 409.5L238.6 409.5L240.6 389.5L242 399.5L246.6 399.5L248.2 389.5L250.2 389.5L253 409.5L254.2 409.5L256 389.5L256.2 389.5L258 380L259.6 399.5L261 409.5L262.4 399.5L265 399.5L266.4 409.5L267.6 399.5L269 409.5L272.4 409.5L273.6 399.5L275.6 399.5L277.7 415.1L279.7 429.6L281.1 429.6L282.5 419.1L284.1 425.1L285.7 429.6L287.1 439.2L288.1 429.6L289.5 439.2L291.7 429.6L293.1 429.6L294.5 419.1L299.7 419.1L302.5 399.5L304.1 399.5L305.7 409.5L307.7 389.5L311.7 389.5L313.1 399.5L314.1 389.5L315.1 399.5L317.1 407.1L319.7 419.1L322.2 405.1L323.8 399.5L325.8 419.1L326.6 409.5L328.2 409.5L329.2 419.1L330.6 409.5L331.8 419.1L333.2 409.5L335.2 419.1L338.2 419.1L339.8 409.5L341.8 399.5L343.2 399.5L345.2 419.1L346.6 409.5L347.8 419.1L349.2 409.5L350.2 419.1L351.2 409.5L352.6 419.1L354.6 429.6L356.2 429.6L357.8 409.5L360.6 409.5L362.2 419.1L364.3 419.1L366.3 399.5L371.9 399.5L373.3 389.5L376.3 389.5L377.9 380L380.7 380L381.9 389.5L383.3 389.5L384.3 380L385.3 389.5L386.7 389.5L387.9 399.5L393.3 399.5L394.7 409.5L396.7 409.5L398.3 399.5L399.9 409.5L401.9 415.1L403.3 419.1L404.7 409.5L406 419.1L407.4 409.5L408.8 419.1L410.4 409.5L412 419.1L414.4 419.1L416 429.6L417.4 419.1L418.4 429.6L420 419.1L420.8 429.6L422.4 419.1L423.4 429.6L424.4 419.1L426.8 419.1L428.4 429.6L432 429.6L433.4 419.1L435 419.1L436.4 399.5L437.4 409.5L438.8 409.5L441.4 399.5L443.4 419.1L444.8 409.5L449.5 409.5L450.9 419.1L455.5 419.1L456.9 409.5L458.5 409.5L459.5 419.1L460.9 409.5L462.9 419.1L464.5 409.5L466.1 419.1L467.5 419.1L469.1 429.6L470.9 412.1L472.5 409.5L474.9 399.5L476.1 409.5L477.5 409.5L478.9 399.5L480.9 409.5L482.5 419.1L484.1 409.5L486.5 409.5L490.1 389.5L492.6 409.5L494.6 389.5L496.6 399.5L498.2 409.5L506.6 409.5L508.2 423.1L509 429.6L510.2 419.1L511 429.6L512 419.1L512.2 429.6L514 429.6L516 449.2L518.4 427.1L520.4 419.1L522.4 429.6L524 419.1L526 409.5L527.6 419.1L530 399.5L532.4 399.5L534.1 389.5L537.7 389.5L539.7 405.1L541.1 409.5L542.5 419.1L548.5 419.1L549.7 429.6L550.5 419.1L551.7 429.6L554.1 429.6L555.3 439.2L557.7 412.1L559.7 409.5L561.1 399.5L562.5 409.5L563.7 399.5L565.7 409.5L567.3 419.1L570.1 399.5L574.5 399.5L575.1 409.5L576.2 399.5L577.2 409.5L580.2 409.5L581.8 399.5L583.2 399.5L584.2 389.5L585.8 399.5L587.8 380L590.2 389.5L592.6 399.5L594.6 399.5L595.8 389.5L597.2 399.5L598.6 405.1L599.8 399.5L601.2 409.5L603.2 419.1L604.6 409.5L606.2 419.1L609.2 419.1L611.8 399.5L612.8 409.5L615.2 409.5L616.2 399.5L618.2 409.5L619.9 399.5L621.3 409.5L622.3 399.5L623.3 409.5L624.7 399.5L625.9 399.5L627.3 409.5L628.3 399.5L629.3 409.5L633.3 409.5L635.9 389.5L637.3 389.5L639.3 399.5L640.3 399.5L641.9 409.5L643.3 399.5L645.3 389.5L646.7 399.5L647.9 389.5L649.3 399.5L650.7 389.5L652.3 389.5L653.3 399.5L655.9 399.5L657.9 409.5L659.9 409.5L662 389.5L664.4 389.5L666.4 399.5L669.4 419.1L672.4 419.1L674 429.6L675.4 419.1L677.4 409.5L679.4 399.5L680.8 409.5L682.4 409.5L684.4 419.1L686.4 419.1L687.8 429.6L689 419.1L690.4 419.1L691.8 409.5L696.4 409.5L698.4 429.6L700 439.2L702 423.1L704.1 419.1L705.5 409.5L706.9 419.1L708.1 409.5L710.9 409.5L712.1 399.5L713.1 409.5L714.1 399.5L715.5 399.5L716.9 389.5L718.1 399.5L719.5 389.5L720.9 380L722.1 389.5L724.5 389.5L726.5 409.5L728.1 399.5L730.1 409.5L731.5 399.5L733.5 409.5L734.9 419.1L736.5 419.1L738.5 439.2L740.1 449.2L741.5 439.2L742.9 439.2L744.5 429.6L745.5 439.2L746.5 429.6L751 429.6L752.2 439.2L756.2 439.2L757.6 429.6L758.6 429.6L760.6 409.5L762.6 409.5L764.2 429.6L766.6 429.6L768 435.2L768.2 435.2L769 439.2L770 429.6L771.6 439.2L773.6 419.1L777.6 419.1L779.6 409.5L781.6 419.1L783.6 399.5L785.6 399.5L788 419.1L789.7 409.5L793.1 409.5L795.1 419.1L797.1 439.2L798.7 419.1L801.1 439.2L802.5 429.6L805.1 449.2L807.1 435.2L809.1 429.6L811.7 429.6L813.1 439.2L815.1 439.2L817.7 419.1L819.1 429.6L821.1 429.6L822.5 419.1L825.1 419.1L826.5 409.5L828.1 419.1L829.7 409.5L831.1 409.5L832.2 419.1L834.6 399.5L836.6 399.5L839.8 419.1L842.6 399.5L845.2 419.1L848.2 419.1L849.8 409.5L851.2 419.1L854.2 399.5L864.2 399.5L865.2 389.5L866.6 389.5L867.6 399.5L868.6 389.5L869.8 399.5L871.8 399.5L873.8 389.5L877.3 409.5L880.3 389.5L883.3 389.5L885.3 399.5L887.9 399.5L889.3 389.5L890.3 399.5L891.3 389.5L894.7 389.5L896.7 399.5L898.7 389.5L900.3 399.5L902.3 389.5L906.7 389.5L908.3 399.5L909.9 409.5L911.3 399.5L913.3 409.5L914.7 419.1L916.3 429.6L918 419.1L919.4 419.1L920.4 427.1L921.4 419.1L922.4 429.6L926.4 429.6L927.4 439.2L928.4 429.6L932.8 429.6L934.4 439.2L937.4 419.1L942.4 419.1L944.4 409.5L945.8 409.5L947.8 389.5L950 399.5L953.4 399.5L955.8 380L958.4 399.5L959.4 399.5L962.5 419.1L965.5 419.1L969.1 449.2L970.5 439.2L971.5 439.2L976.1 409.5L978.1 419.1L979.5 409.5L980.5 419.1L981.5 409.5L984.1 399.5L985.5 399.5L987.5 419.1L989.5 399.5L990.5 399.5L992.1 409.5L993.5 409.5L995.5 429.6L997.1 429.6L998.5 439.2L999.9 429.6L1000.9 439.2L1001.9 429.6L1003.6 439.2L1005 439.2L1006.2 449.2L1009 419.1L1011 419.1L1013 409.5L1015 399.5L1016.6 399.5L1018.6 419.1L1020.2 409.5L1022.2 409.5L1024 399.5L1024.2 409.5L1025 399.5L1027 399.5L1028.4 409.5L1031 409.5L1032.4 419.1L1036 419.1L1039 399.5L1041 399.5L1042.4 409.5L1043.6 409.5L1045 419.1L1047.1 419.1L1049.1 399.5L1051.7 399.5L1053.7 419.1L1056.1 399.5L1057.1 399.5L1058.5 409.5L1060.1 399.5L1061.7 389.5L1063.1 399.5L1065.1 399.5L1067.1 380L1069.1 399.5L1071.1 409.5L1072.7 409.5L1074.5 389.5L1076.5 405.1L1078.5 419.1L1082.1 419.1L1083.7 429.6L1084.7 419.1L1086.5 419.1L1088.6 439.2L1090.2 429.6L1098.6 429.6L1100.2 419.1L1101.2 429.6L1102.6 429.6L1104.2 439.2L1107.8 439.2L1110.6 419.1L1111.2 427.1L1113.2 409.5L1115.8 409.5L1117.2 419.1L1118.2 419.1L1120.6 389.5L1126.2 389.5L1127.6 399.5L1129.2 389.5L1130.6 389.5L1131.9 399.5L1132.9 389.5L1133.9 399.5L1135.5 399.5L1136.7 389.5L1138.7 380L1140.3 389.5L1146.3 389.5L1148.3 380L1149.9 380L1151.3 370.6L1152.7 380L1154.7 380L1155.9 370.6L1157.3 380L1159.9 399.5L1162.3 399.5L1163.7 409.5L1165.3 409.5L1166.7 399.5L1170.7 399.5L1172.3 409.5L1175.4 389.5L1178 409.5L1179.4 399.5L1180.8 409.5L1182 399.5L1183.4 409.5L1184.4 399.5L1186 409.5L1189.4 409.5L1190.4 399.5L1191.4 409.5L1193.4 389.5L1196 409.5L1197.4 409.5L1199.4 399.5L1201.4 399.5L1202.4 389.5L1203.4 399.5L1204.8 389.5L1206 399.5L1207.4 389.5L1209.4 405.1L1212 419.1L1213 409.5L1214.4 419.1L1216.1 419.1L1217.1 409.5L1218.5 419.1" fill="none" stroke="#3179a8" stroke-width="1.15" stroke-linejoin="round"/>
<g fill="#1e1e1e" font-size="11" stroke="#1e1e1e" stroke-width="0.45">
<text x="1235.5" y="39.5" textLength="33" lengthAdjust="spacingAndGlyphs">0.4500</text>
<text x="1235.5" y="105.5" textLength="33" lengthAdjust="spacingAndGlyphs">0.4000</text>
<text x="1235.5" y="171.5" textLength="33" lengthAdjust="spacingAndGlyphs">0.3500</text>
<text x="1235.5" y="237.5" textLength="33" lengthAdjust="spacingAndGlyphs">0.3000</text>
<text x="1235.5" y="303.5" textLength="33" lengthAdjust="spacingAndGlyphs">0.2500</text>
<text x="1235.6" y="393.5" textLength="11.6" lengthAdjust="spacingAndGlyphs">60</text>
<text x="1235.6" y="433.5" textLength="11.6" lengthAdjust="spacingAndGlyphs">40</text>
<text x="39.5" y="482.7" text-anchor="middle" textLength="26" lengthAdjust="spacingAndGlyphs">9 Oct</text>
<text x="130.5" y="482.7" text-anchor="middle" textLength="31.5" lengthAdjust="spacingAndGlyphs">16 Oct</text>
<text x="221" y="482.7" text-anchor="middle" textLength="31.5" lengthAdjust="spacingAndGlyphs">23 Oct</text>
<text x="311.6" y="482.7" text-anchor="middle" textLength="31.5" lengthAdjust="spacingAndGlyphs">30 Oct</text>
<text x="338.3" y="482.7" text-anchor="middle" textLength="18.5" lengthAdjust="spacingAndGlyphs">Nov</text>
<text x="403" y="482.7" text-anchor="middle" textLength="27" lengthAdjust="spacingAndGlyphs">6 Nov</text>
<text x="493.5" y="482.7" text-anchor="middle" textLength="32.5" lengthAdjust="spacingAndGlyphs">13 Nov</text>
<text x="584" y="482.7" text-anchor="middle" textLength="32.5" lengthAdjust="spacingAndGlyphs">20 Nov</text>
<text x="675" y="482.7" text-anchor="middle" textLength="32.5" lengthAdjust="spacingAndGlyphs">27 Nov</text>
<text x="726" y="482.7" text-anchor="middle" textLength="18" lengthAdjust="spacingAndGlyphs">Dec</text>
<text x="765" y="482.7" text-anchor="middle" textLength="27" lengthAdjust="spacingAndGlyphs">4 Dec</text>
<text x="856" y="482.7" text-anchor="middle" textLength="32" lengthAdjust="spacingAndGlyphs">11 Dec</text>
<text x="946.5" y="482.7" text-anchor="middle" textLength="32.5" lengthAdjust="spacingAndGlyphs">18 Dec</text>
<text x="1037.5" y="482.7" text-anchor="middle" textLength="32.5" lengthAdjust="spacingAndGlyphs">25 Dec</text>
<text x="1126.5" y="482.7" text-anchor="middle" textLength="23" lengthAdjust="spacingAndGlyphs">2023</text>
</g>
<circle cx="44.5" cy="21.5" r="8.5" fill="#111827"/>
<g fill="#fff">
<circle cx="46.55" cy="21.50" r="0.75" opacity="0.95"/>
<circle cx="45.52" cy="23.28" r="0.75" opacity="0.95"/>
<circle cx="43.48" cy="23.28" r="0.75" opacity="0.95"/>
<circle cx="42.45" cy="21.50" r="0.75" opacity="0.95"/>
<circle cx="43.48" cy="19.72" r="0.75" opacity="0.95"/>
<circle cx="45.52" cy="19.72" r="0.75" opacity="0.95"/>
<circle cx="47.96" cy="23.50" r="0.45" opacity="0.55"/>
<circle cx="44.50" cy="25.50" r="0.45" opacity="0.55"/>
<circle cx="41.04" cy="23.50" r="0.45" opacity="0.55"/>
<circle cx="41.04" cy="19.50" r="0.45" opacity="0.55"/>
<circle cx="44.50" cy="17.50" r="0.45" opacity="0.55"/>
<circle cx="47.96" cy="19.50" r="0.45" opacity="0.55"/>
<circle cx="50.10" cy="21.50" r="0.35" opacity="0.35"/>
<circle cx="47.30" cy="26.35" r="0.35" opacity="0.35"/>
<circle cx="41.70" cy="26.35" r="0.35" opacity="0.35"/>
<circle cx="38.90" cy="21.50" r="0.35" opacity="0.35"/>
<circle cx="41.70" cy="16.65" r="0.35" opacity="0.35"/>
<circle cx="47.30" cy="16.65" r="0.35" opacity="0.35"/>
</g>
<g font-size="11.2" fill="#353535" stroke="#353535" stroke-width="0.2">
<text x="66.3" y="28.1" textLength="109.3" lengthAdjust="spacingAndGlyphs">BINANCE:ADAUSDT</text>
<text x="180.6" y="28.1" textLength="23.1" lengthAdjust="spacingAndGlyphs">(2h)</text>
<text x="208.6" y="28.1" textLength="4.6" lengthAdjust="spacingAndGlyphs">-</text>
<text x="217.5" y="28.1" textLength="65.5" lengthAdjust="spacingAndGlyphs">2023-01-08</text>
<text x="288.7" y="28.1" textLength="31.9" lengthAdjust="spacingAndGlyphs">03:00</text>
</g>
<circle cx="1215" cy="18" r="14.3" fill="#fff"/>
<circle cx="1215" cy="18" r="13.8" fill="#3a49a8"/>
<path d="M1205.7 23.3L1212.5 17.5L1216.5 21.5L1223.6 15.2" fill="none" stroke="#fff" stroke-width="1.2" stroke-linejoin="round" stroke-linecap="round"/>
<path d="M1221.6 13.5L1226 13.3L1225.7 17.7Z" fill="#fff"/>
<g font-size="12.3" fill="#1a1a1a" stroke="#1a1a1a" stroke-width="0.35">
<text x="1234" y="21.8" textLength="36.3" lengthAdjust="spacingAndGlyphs">Charts</text>
<text x="1274.8" y="21.8">p</text>
</g>
<path d="M1230.6 266.5L1236.5 257H1275.6V276H1236.5Z" fill="#ef625d"/>
<text x="1239.5" y="270.5" font-size="11" fill="#fff" stroke="#fff" stroke-width="0.3" textLength="32" lengthAdjust="spacingAndGlyphs">0.2753</text>
<path d="M1230 419.5L1236 410.5H1253.5V428.5H1236Z" fill="#2272a4"/>
<text x="1240" y="423.4" font-size="10.8" fill="#fff" stroke="#fff" stroke-width="0.3" textLength="11" lengthAdjust="spacingAndGlyphs">45</text>
<path d="M1202 474.5H1214.5L1218.5 470L1222.5 474.5H1235V495H1202Z" fill="#ef625d"/>
<text x="1205" y="489" font-size="11" fill="#fff" stroke="#fff" stroke-width="0.3" textLength="27" lengthAdjust="spacingAndGlyphs">56:17</text>
</g>
</svg></body></html>
